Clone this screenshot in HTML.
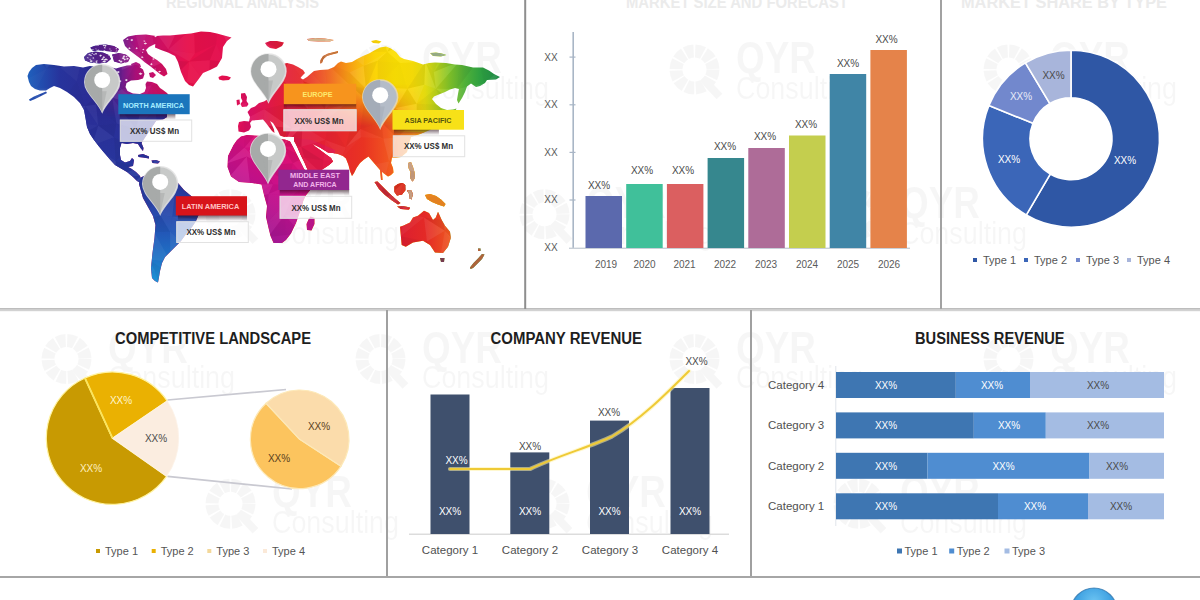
<!DOCTYPE html>
<html lang="en">
<head>
<meta charset="utf-8">
<title>Market Infographic</title>
<style>
  html, body { margin: 0; padding: 0; background: #ffffff; }
  body { width: 1200px; height: 600px; overflow: hidden; font-family: "Liberation Sans", sans-serif; }
  svg { display: block; position: absolute; left: 0; top: 0; }
  text { font-family: "Liberation Sans", sans-serif; }
  .t  { font-weight: bold; font-size: 15.6px; fill: #1e1e1e; }
  .ax { font-size: 10px; fill: #5a5a5a; }
  .lg { font-size: 11px; fill: #555555; }
  .cat { font-size: 11.5px; fill: #505050; }
  .pv { font-size: 10px; fill: #4a4a4a; }
  .pw { font-size: 10px; fill: #ffffff; }
</style>
</head>
<body>
<svg width="1200" height="600" viewBox="0 0 1200 600">
  <defs>
    <radialGradient id="globeG" cx="0.5" cy="0.3" r="0.7">
  <stop offset="0" stop-color="#6cc4f2"/><stop offset="0.6" stop-color="#3a9de0"/><stop offset="1" stop-color="#2a78b8"/>
</radialGradient>
<clipPath id="landClip">
<polygon points="27.5,76 29,72 32,68 36,65 44,64 54,65 64,66.5 74,66 83,67.5 90,66 97,67 104,68.5 110,67 116,68.5 121,67 127,65.5 133,65 139,66.5 143,69.5 144.5,74 143,78.5 138,80 131,80.5 126.5,83 125.5,87 127.5,91 133,93.5 140,94 144.5,92 146,88 145.5,84 147,81.5 152,82 157,84 160,88 163,90 167,93 171,98 168,102 162,104 166,108 167,112 167,117 163,119.5 157,120.5 156,121 152,127 148,133 144,139 141.5,143 143.5,148 143,151 140.5,148 138,144 133,143 127,144 121.5,143 120,148 120,155 121,160 125,162.5 130,161 132,158 134,160 133,166 128,167 131,168.5 136,172 140,176 142,183.5 137,181 133,177 127,172 121,168.5 115,165 110,159.5 104,152.5 99,146.5 94,140 90,134 87,127 85.5,118 84,110 80,103 74,97 67,92 60,88 54,86 50,88 46,90.5 40,90.5 35,89 31,86 29,82"/>
<polygon points="29,99.5 34,96.5 40,94 46,91.5 47,93 41,96 35,99 30,101"/>
<polygon points="84,57 88,53 95,51.5 103,52.5 109,55 111,59 107,62.5 99,63.5 90,62.5 85,60.5"/>
<polygon points="90,47.5 97,45 106,44.5 114,46 119,49 117,52.5 110,51.5 101,50.5 93,51"/>
<polygon points="112,54.5 119,53 126,54.5 130,58 128,62 121,63.5 114,61.5"/>
<polygon points="123,40 128,36.5 136,35 146,34.5 156,36 163,38.5 160,42 154,44.5 149,47 146,50 148,54 152,57 157,60 162,64 166,69 167.5,74 164,76.5 160,74 155,70 150,66 145,62.5 141,59 137,56 133,53 129,50 125,46"/>
<polygon points="131,64 136,62 140,64 141,67 136,66 132,66.5"/>
<polygon points="149,73 153,72 156,75 153,78 150,77"/>
<polygon points="156,36 163,35.5 170,35.5 180,34.5 191,33.5 201,31.5 210,32 217,33.5 226,36 231.5,37.5 227,41 223,47 222,58 217,66.5 210,70 203,73 198,80 193,86.5 189,85 185,81 181,72 178,62 175,56 168,52.5 161,50 155,47.5"/>
<polygon points="218.5,77 222,75.5 227,76 231,77.5 229,80 223,80.5 219,79.5"/>
<polygon points="138,155 143,154 149,156.5 149,158.5 143,157.5 138.5,157"/>
<polygon points="151.5,160.5 156,160 160,161.5 158,163.5 152.5,163"/>
<polygon points="140,178 146,175 155,174 165,176 172,179 178,183 184,190 190,195 196,200 200,207 199,214 196,221 192,227 186,234 181,241 176,246 170,252 165,257 162,263 160,271 159,277 158,282.5 155,281 152,278 151,268 152.5,253 154.5,238 155.5,225 153,216 148,207 143,198 141,191 139,184"/>
<polygon points="265,43 270,41 277,41 284,42.5 282,46 276,49 270,48 267,46"/>
<polygon points="307,39 315,38 325,38.5 334,40 330,41.5 318,41.5 309,41"/>
<polygon points="338,51 334,52 328,53.5 323,56 320.5,60 320,63.5 322,63 323.5,59 327,56 332,54.5 338,53"/>
<polygon points="371,41 376,40 381.5,41.5 379,43.5 373,43"/>
<polygon points="430,53 436,52.5 442,53.5 446.5,55 441,56.5 433,56"/>
<polygon points="241,93.5 245,93 247,97 246.5,101 248.5,104 247,106.5 242,107 240.5,104 242.5,101 241,98"/>
<polygon points="236.5,100 239.5,99.5 240,104 237,105.5"/>
<polygon points="238.5,131.5 238,126 239,122 244,121 249,121.5 250,117 247.5,112 251,108 255,106.5 259,103 264,101.5 268,99 262,92 261,86 264,79 269,73 275,68 281,64.5 287,63 293,64.5 298,67 303,70 305,73 302,76 300.5,78 303,79.5 307,77 311,73.5 314,71 320,70 328,69.5 334,67 338,63 341,61.5 346,63 352,62 357,59 363,56 369,53.5 375,50 380,47.5 386,46.5 391,48.5 396,52 400,57 404,59 413,61 423,64.5 429,63 435,62.5 446,63 455,64.5 462,65 473,67.5 483,67.5 489,70.5 494,74 500,77 496,79.5 487,80 485,83 480,86 476,87 471,83.5 467,86.5 465,92 462,98 458.5,103.5 457,100 458,94 459,89 455,88 450,89.5 445,92 440,94 434,96.5 432,99 436,104 441,108 447,110 453,109.5 456.5,108.5 455,112 448,118 440,124 430,130 420,134 411,137 408.5,145 407,152 401,157 396,157.5 392,157.5 391,163 393,168 393.5,172.5 391,175 388,176.5 384,173.5 380,170 377,166.5 374,163 371,159.5 368.5,156.5 364,159.5 360,163 356.5,168 354,173 352,176 350,171 348.5,165 346,158.5 343,156 338,154 333,153 328,152.5 324,150 319,147 314,144.5 312,143 315,146.5 320,150 326,154.5 331,158 333,161.5 329,165 323,169 316,173 310,174.5 307.5,169.5 304.5,162.5 300.5,154.5 297.5,147.5 295.5,143.5 294,141 294,137 289,136.5 284,137 280,135.5 278,131 275.5,127 273,123 270,121 272,125 274,129.5 274.5,133 272,131 269,127 266,123 263,119.5 258,120 252,120.5 250,123 251,127 249,130.5 244,132.5"/>
<polygon points="380,170 381.8,170.5 382.6,180 381,180"/>
<polygon points="374.5,182 377.5,181.5 383,187 389,193 395,198.5 400.5,203 398,204.5 392,200.5 385,195 379,189"/>
<polygon points="397,206.5 403,206 410,207.5 409,209.5 401,209"/>
<polygon points="394.5,186.5 398,184 402.5,183 406,185.5 405.5,190 402,194.5 397,195.5 394.5,192"/>
<polygon points="408,163 411,162 413,167 414.5,172 415,178 412.5,181.5 410,178 410.5,172 408.5,168"/>
<polygon points="407,190.5 411,190 413,194 411.5,199.5 409,198 409.5,194.5"/>
<polygon points="425,195 430,194 436,196 441,199.5 445.5,204 444,206.5 438,204.5 432,202 427,199"/>
<polygon points="241,136.5 247,135 254,135.5 262,136 270,137.5 278,139 285,139.5 290,141.5 293,147 296.5,154 300,161 303.5,168 307.5,174.5 313,178 319,179.5 316,183 311,189 306,195 303.5,200 301.5,207 298.5,216 296,223 291,233.5 286,240 282,243 273.5,243 270.5,236 268.5,228 266,217 267,206 264,195 261.5,184.5 252,183 239,182 231,176.5 227.5,167 228,156 233.5,145 237,140"/>
<polygon points="310.5,216.5 314.5,218 314.5,224 311.5,230.5 307,230 306.5,224 308.5,219.5"/>
<polygon points="400,226.7 401.7,245 405.8,246.7 413,242.5 423,240.8 430,245 435,252.5 443,253 448,246.7 450.8,238 450,231.7 445,225.8 441.7,220 438,211.7 435.8,217.5 433,220 429,213 424,210.8 418,215.8 413,217.5 410,222.5 403,225.8"/>
<polygon points="440,258 444.5,258 444,262 441,262"/>
<polygon points="470,267.5 473.5,263 478,258.5 482,254 484.5,254.5 482,259 477.5,263.5 473,268 470.5,269"/>
<polygon points="478,248.5 480.5,248.5 480.5,251 478,251"/>
</clipPath>
<linearGradient id="gTop" gradientUnits="userSpaceOnUse" x1="0" y1="0" x2="500" y2="0">
<stop offset="0.056" stop-color="#1f5fbc"/><stop offset="0.12" stop-color="#27339c"/><stop offset="0.2" stop-color="#2c2a92"/>
<stop offset="0.236" stop-color="#5a2090"/><stop offset="0.272" stop-color="#b0107c"/><stop offset="0.32" stop-color="#d21064"/>
<stop offset="0.38" stop-color="#e8104a"/><stop offset="0.46" stop-color="#e21050"/><stop offset="0.5" stop-color="#dc1064"/>
<stop offset="0.55" stop-color="#e01a40"/><stop offset="0.6" stop-color="#e62228"/><stop offset="0.65" stop-color="#ee5a22"/>
<stop offset="0.685" stop-color="#f48a18"/><stop offset="0.715" stop-color="#f8b410"/><stop offset="0.75" stop-color="#fbd408"/><stop offset="0.79" stop-color="#fce004"/>
<stop offset="0.825" stop-color="#f8de08"/><stop offset="0.85" stop-color="#e4dc10"/><stop offset="0.875" stop-color="#b4d01c"/><stop offset="0.9" stop-color="#80c42a"/>
<stop offset="0.93" stop-color="#50b038"/><stop offset="0.96" stop-color="#2ea040"/><stop offset="1" stop-color="#1e8848"/></linearGradient>
<linearGradient id="gAmer" gradientUnits="userSpaceOnUse" x1="0" y1="100" x2="0" y2="285">
<stop offset="0" stop-color="#2b2c96"/><stop offset="0.35" stop-color="#27359c"/><stop offset="0.55" stop-color="#2a40a4"/>
<stop offset="0.72" stop-color="#2258b8"/><stop offset="0.86" stop-color="#1f74c6"/><stop offset="1" stop-color="#1f96d8"/></linearGradient>
<linearGradient id="gAmerFade" gradientUnits="userSpaceOnUse" x1="0" y1="92" x2="0" y2="118">
<stop offset="0" stop-color="#fff" stop-opacity="0"/><stop offset="1" stop-color="#fff" stop-opacity="1"/></linearGradient>
<mask id="mAmer"><rect x="0" y="0" width="215" height="300" fill="url(#gAmerFade)"/></mask>
<linearGradient id="gAfr" gradientUnits="userSpaceOnUse" x1="305" y1="140" x2="245" y2="240">
<stop offset="0" stop-color="#e21058"/><stop offset="0.25" stop-color="#d8107a"/><stop offset="0.5" stop-color="#c8108c"/><stop offset="0.75" stop-color="#b01490"/><stop offset="1" stop-color="#981a94"/></linearGradient>
<linearGradient id="gAsiaS" gradientUnits="userSpaceOnUse" x1="285" y1="0" x2="460" y2="0">
<stop offset="0" stop-color="#e01a48"/><stop offset="0.25" stop-color="#e42230"/><stop offset="0.45" stop-color="#e93322"/><stop offset="0.58" stop-color="#f05220"/><stop offset="0.68" stop-color="#f47a1c"/><stop offset="0.8" stop-color="#f6a018"/><stop offset="1" stop-color="#f8c010"/></linearGradient>
<linearGradient id="gAsiaSFade" gradientUnits="userSpaceOnUse" x1="0" y1="84" x2="0" y2="126">
<stop offset="0" stop-color="#fff" stop-opacity="0"/><stop offset="1" stop-color="#fff" stop-opacity="1"/></linearGradient>
<linearGradient id="gAsiaSFadeX" gradientUnits="userSpaceOnUse" x1="392" y1="0" x2="428" y2="0">
<stop offset="0" stop-color="#000" stop-opacity="0"/><stop offset="1" stop-color="#000" stop-opacity="1"/></linearGradient>
<mask id="mAsiaS"><rect x="280" y="60" width="200" height="150" fill="url(#gAsiaSFade)"/><rect x="380" y="60" width="110" height="72" fill="url(#gAsiaSFadeX)"/></mask>
<linearGradient id="gArc" gradientUnits="userSpaceOnUse" x1="84" y1="0" x2="130" y2="0">
<stop offset="0" stop-color="#45238c"/><stop offset="0.5" stop-color="#5c1e88"/><stop offset="1" stop-color="#8a1684"/></linearGradient>
<linearGradient id="gAus" gradientUnits="userSpaceOnUse" x1="400" y1="0" x2="452" y2="0">
<stop offset="0" stop-color="#dc1e30"/><stop offset="0.5" stop-color="#e42a26"/><stop offset="1" stop-color="#ee5a20"/></linearGradient><linearGradient id="shG" x1="0" y1="0" x2="0" y2="1"><stop offset="0" stop-color="#200010" stop-opacity="0.6"/><stop offset="1" stop-color="#200010" stop-opacity="0"/></linearGradient>

  </defs>
  <rect x="0" y="0" width="1200" height="600" fill="#ffffff"/>

  <g id="watermarks" opacity="0.031">
<g><circle cx="380.5" cy="69.5" r="18.5" fill="none" stroke="#000" stroke-width="13" stroke-dasharray="8.2 1.5"/><path d="M388.5,78.5 L405.5,96.5" stroke="#000" stroke-width="8" stroke-linecap="butt"/><text x="422" y="73.1" font-size="44" font-weight="bold" fill="#000" textLength="80" lengthAdjust="spacingAndGlyphs">QYR</text><text x="422" y="98.8" font-size="31.5" fill="#000" textLength="127" lengthAdjust="spacingAndGlyphs">Consulting</text></g>
<g><circle cx="694.5" cy="69.5" r="18.5" fill="none" stroke="#000" stroke-width="13" stroke-dasharray="8.2 1.5"/><path d="M702.5,78.5 L719.5,96.5" stroke="#000" stroke-width="8" stroke-linecap="butt"/><text x="736" y="73.1" font-size="44" font-weight="bold" fill="#000" textLength="80" lengthAdjust="spacingAndGlyphs">QYR</text><text x="736" y="98.8" font-size="31.5" fill="#000" textLength="127" lengthAdjust="spacingAndGlyphs">Consulting</text></g>
<g><circle cx="1008.5" cy="69.5" r="18.5" fill="none" stroke="#000" stroke-width="13" stroke-dasharray="8.2 1.5"/><path d="M1016.5,78.5 L1033.5,96.5" stroke="#000" stroke-width="8" stroke-linecap="butt"/><text x="1050" y="73.1" font-size="44" font-weight="bold" fill="#000" textLength="80" lengthAdjust="spacingAndGlyphs">QYR</text><text x="1050" y="98.8" font-size="31.5" fill="#000" textLength="127" lengthAdjust="spacingAndGlyphs">Consulting</text></g>
<g><circle cx="230.5" cy="214.3" r="18.5" fill="none" stroke="#000" stroke-width="13" stroke-dasharray="8.2 1.5"/><path d="M238.5,223.3 L255.5,241.3" stroke="#000" stroke-width="8" stroke-linecap="butt"/><text x="272" y="217.9" font-size="44" font-weight="bold" fill="#000" textLength="80" lengthAdjust="spacingAndGlyphs">QYR</text><text x="272" y="243.60000000000002" font-size="31.5" fill="#000" textLength="127" lengthAdjust="spacingAndGlyphs">Consulting</text></g>
<g><circle cx="544.5" cy="214.3" r="18.5" fill="none" stroke="#000" stroke-width="13" stroke-dasharray="8.2 1.5"/><path d="M552.5,223.3 L569.5,241.3" stroke="#000" stroke-width="8" stroke-linecap="butt"/><text x="586" y="217.9" font-size="44" font-weight="bold" fill="#000" textLength="80" lengthAdjust="spacingAndGlyphs">QYR</text><text x="586" y="243.60000000000002" font-size="31.5" fill="#000" textLength="127" lengthAdjust="spacingAndGlyphs">Consulting</text></g>
<g><circle cx="858.5" cy="214.3" r="18.5" fill="none" stroke="#000" stroke-width="13" stroke-dasharray="8.2 1.5"/><path d="M866.5,223.3 L883.5,241.3" stroke="#000" stroke-width="8" stroke-linecap="butt"/><text x="900" y="217.9" font-size="44" font-weight="bold" fill="#000" textLength="80" lengthAdjust="spacingAndGlyphs">QYR</text><text x="900" y="243.60000000000002" font-size="31.5" fill="#000" textLength="127" lengthAdjust="spacingAndGlyphs">Consulting</text></g>
<g><circle cx="66.5" cy="359" r="18.5" fill="none" stroke="#000" stroke-width="13" stroke-dasharray="8.2 1.5"/><path d="M74.5,368 L91.5,386" stroke="#000" stroke-width="8" stroke-linecap="butt"/><text x="108" y="362.6" font-size="44" font-weight="bold" fill="#000" textLength="80" lengthAdjust="spacingAndGlyphs">QYR</text><text x="108" y="388.3" font-size="31.5" fill="#000" textLength="127" lengthAdjust="spacingAndGlyphs">Consulting</text></g>
<g><circle cx="380.5" cy="359" r="18.5" fill="none" stroke="#000" stroke-width="13" stroke-dasharray="8.2 1.5"/><path d="M388.5,368 L405.5,386" stroke="#000" stroke-width="8" stroke-linecap="butt"/><text x="422" y="362.6" font-size="44" font-weight="bold" fill="#000" textLength="80" lengthAdjust="spacingAndGlyphs">QYR</text><text x="422" y="388.3" font-size="31.5" fill="#000" textLength="127" lengthAdjust="spacingAndGlyphs">Consulting</text></g>
<g><circle cx="694.5" cy="359" r="18.5" fill="none" stroke="#000" stroke-width="13" stroke-dasharray="8.2 1.5"/><path d="M702.5,368 L719.5,386" stroke="#000" stroke-width="8" stroke-linecap="butt"/><text x="736" y="362.6" font-size="44" font-weight="bold" fill="#000" textLength="80" lengthAdjust="spacingAndGlyphs">QYR</text><text x="736" y="388.3" font-size="31.5" fill="#000" textLength="127" lengthAdjust="spacingAndGlyphs">Consulting</text></g>
<g><circle cx="1008.5" cy="359" r="18.5" fill="none" stroke="#000" stroke-width="13" stroke-dasharray="8.2 1.5"/><path d="M1016.5,368 L1033.5,386" stroke="#000" stroke-width="8" stroke-linecap="butt"/><text x="1050" y="362.6" font-size="44" font-weight="bold" fill="#000" textLength="80" lengthAdjust="spacingAndGlyphs">QYR</text><text x="1050" y="388.3" font-size="31.5" fill="#000" textLength="127" lengthAdjust="spacingAndGlyphs">Consulting</text></g>
<g><circle cx="230.5" cy="503.8" r="18.5" fill="none" stroke="#000" stroke-width="13" stroke-dasharray="8.2 1.5"/><path d="M238.5,512.8 L255.5,530.8" stroke="#000" stroke-width="8" stroke-linecap="butt"/><text x="272" y="507.40000000000003" font-size="44" font-weight="bold" fill="#000" textLength="80" lengthAdjust="spacingAndGlyphs">QYR</text><text x="272" y="533.1" font-size="31.5" fill="#000" textLength="127" lengthAdjust="spacingAndGlyphs">Consulting</text></g>
<g><circle cx="544.5" cy="503.8" r="18.5" fill="none" stroke="#000" stroke-width="13" stroke-dasharray="8.2 1.5"/><path d="M552.5,512.8 L569.5,530.8" stroke="#000" stroke-width="8" stroke-linecap="butt"/><text x="586" y="507.40000000000003" font-size="44" font-weight="bold" fill="#000" textLength="80" lengthAdjust="spacingAndGlyphs">QYR</text><text x="586" y="533.1" font-size="31.5" fill="#000" textLength="127" lengthAdjust="spacingAndGlyphs">Consulting</text></g>
<g><circle cx="858.5" cy="503.8" r="18.5" fill="none" stroke="#000" stroke-width="13" stroke-dasharray="8.2 1.5"/><path d="M866.5,512.8 L883.5,530.8" stroke="#000" stroke-width="8" stroke-linecap="butt"/><text x="900" y="507.40000000000003" font-size="44" font-weight="bold" fill="#000" textLength="80" lengthAdjust="spacingAndGlyphs">QYR</text><text x="900" y="533.1" font-size="31.5" fill="#000" textLength="127" lengthAdjust="spacingAndGlyphs">Consulting</text></g>
</g>

  <g id="toptitles" fill="#ebebeb" font-weight="bold" font-size="16">
<text x="166" y="7.5" textLength="153" lengthAdjust="spacingAndGlyphs">REGIONAL ANALYSIS</text>
<text x="626" y="7.5" textLength="222" lengthAdjust="spacingAndGlyphs">MARKET SIZE AND FORECAST</text>
<text x="961" y="7.5" textLength="206" lengthAdjust="spacingAndGlyphs">MARKET SHARE BY TYPE</text>
</g>

  <g id="map">
<g clip-path="url(#landClip)">
<rect x="20" y="25" width="490" height="270" fill="url(#gTop)"/>
<g mask="url(#mAmer)"><rect x="20" y="90" width="190" height="200" fill="url(#gAmer)"/></g>
<g mask="url(#mAsiaS)"><rect x="286" y="80" width="190" height="130" fill="url(#gAsiaS)"/></g>
<polygon points="241,136.5 247,135 254,135.5 262,136 270,137.5 278,139 285,139.5 290,141.5 293,147 296.5,154 300,161 303.5,168 307.5,174.5 313,178 319,179.5 316,183 311,189 306,195 303.5,200 301.5,207 298.5,216 296,223 291,233.5 286,240 282,243 273.5,243 270.5,236 268.5,228 266,217 267,206 264,195 261.5,184.5 252,183 239,182 231,176.5 227.5,167 228,156 233.5,145 237,140" fill="url(#gAfr)"/>
<polygon points="310.5,216.5 314.5,218 314.5,224 311.5,230.5 307,230 306.5,224 308.5,219.5" fill="#b81488"/>
<polygon points="294,138 312,140 335,150 335,180 309,180 300,155" fill="#e01848"/>
<rect x="370" y="180" width="45" height="32" fill="#c82a38"/>
<rect x="392" y="182" width="16" height="15" fill="#dc3020"/>
<rect x="405" y="160" width="12" height="42" fill="#c49a7c"/>
<rect x="423" y="192" width="25" height="16" fill="#e88422"/>
<rect x="398" y="208" width="56" height="48" fill="url(#gAus)"/>
<rect x="438" y="256" width="8" height="8" fill="#6e3044"/>
<rect x="468" y="246" width="18" height="25" fill="#b0643c"/>
<g fill="url(#gArc)"><polygon points="84,57 88,53 95,51.5 103,52.5 109,55 111,59 107,62.5 99,63.5 90,62.5 85,60.5"/><polygon points="90,47.5 97,45 106,44.5 114,46 119,49 117,52.5 110,51.5 101,50.5 93,51"/><polygon points="112,54.5 119,53 126,54.5 130,58 128,62 121,63.5 114,61.5"/></g>
<polygon points="338,51 334,52 328,53.5 323,56 320.5,60 320,63.5 322,63 323.5,59 327,56 332,54.5 338,53" fill="#c0743c"/>
<polygon points="307,39 315,38 325,38.5 334,40 330,41.5 318,41.5 309,41" fill="#d8b890"/>
<polygon points="430,53 436,52.5 442,53.5 446.5,55 441,56.5 433,56" fill="#9ab088"/>
<g id="facets"><polygon points="19.7,23.5 43.0,22.4 35.0,49.2" fill="#000" fill-opacity="0.05"/>
<polygon points="19.7,23.5 35.0,49.2 17.5,46.9" fill="#000" fill-opacity="0.06"/>
<polygon points="43.0,22.4 60.5,26.3 35.0,49.2" fill="#000" fill-opacity="0.02"/>
<polygon points="60.5,26.3 63.4,47.9 35.0,49.2" fill="#fff" fill-opacity="0.08"/>
<polygon points="60.5,26.3 73.3,28.1 63.4,47.9" fill="#fff" fill-opacity="0.08"/>
<polygon points="73.3,28.1 83.9,44.6 63.4,47.9" fill="#000" fill-opacity="0.03"/>
<polygon points="73.3,28.1 92.0,27.1 100.5,48.2" fill="#000" fill-opacity="0.05"/>
<polygon points="111.4,22.7 118.0,46.4 100.5,48.2" fill="#000" fill-opacity="0.03"/>
<polygon points="111.4,22.7 140.4,52.8 118.0,46.4" fill="#fff" fill-opacity="0.03"/>
<polygon points="135.0,32.2 150.1,24.4 140.4,52.8" fill="#fff" fill-opacity="0.06"/>
<polygon points="150.1,24.4 154.7,49.1 140.4,52.8" fill="#fff" fill-opacity="0.03"/>
<polygon points="150.1,24.4 175.7,33.8 168.3,49.6" fill="#fff" fill-opacity="0.06"/>
<polygon points="150.1,24.4 168.3,49.6 154.7,49.1" fill="#000" fill-opacity="0.02"/>
<polygon points="175.7,33.8 194.0,26.7 168.3,49.6" fill="#000" fill-opacity="0.02"/>
<polygon points="194.0,26.7 194.9,53.4 168.3,49.6" fill="#fff" fill-opacity="0.04"/>
<polygon points="194.0,26.7 218.2,22.1 216.2,44.2" fill="#000" fill-opacity="0.03"/>
<polygon points="194.0,26.7 216.2,44.2 194.9,53.4" fill="#000" fill-opacity="0.03"/>
<polygon points="218.2,22.1 235.7,25.3 229.5,49.2" fill="#fff" fill-opacity="0.07"/>
<polygon points="235.7,25.3 243.8,46.5 229.5,49.2" fill="#fff" fill-opacity="0.08"/>
<polygon points="245.4,23.0 266.5,32.1 243.8,46.5" fill="#000" fill-opacity="0.03"/>
<polygon points="266.5,32.1 264.7,42.0 243.8,46.5" fill="#fff" fill-opacity="0.05"/>
<polygon points="266.5,32.1 283.8,29.1 264.7,42.0" fill="#fff" fill-opacity="0.08"/>
<polygon points="283.8,29.1 282.3,50.5 264.7,42.0" fill="#000" fill-opacity="0.05"/>
<polygon points="283.8,29.1 308.8,26.3 302.2,43.7" fill="#fff" fill-opacity="0.05"/>
<polygon points="283.8,29.1 302.2,43.7 282.3,50.5" fill="#fff" fill-opacity="0.06"/>
<polygon points="308.8,26.3 326.6,22.3 302.2,43.7" fill="#000" fill-opacity="0.06"/>
<polygon points="326.6,22.3 324.6,51.8 302.2,43.7" fill="#000" fill-opacity="0.02"/>
<polygon points="326.6,22.3 339.3,24.2 339.5,46.3" fill="#000" fill-opacity="0.04"/>
<polygon points="326.6,22.3 339.5,46.3 324.6,51.8" fill="#fff" fill-opacity="0.08"/>
<polygon points="339.3,24.2 366.3,27.1 339.5,46.3" fill="#fff" fill-opacity="0.07"/>
<polygon points="366.3,27.1 364.6,52.0 339.5,46.3" fill="#000" fill-opacity="0.02"/>
<polygon points="380.6,29.1 387.2,51.7 364.6,52.0" fill="#000" fill-opacity="0.03"/>
<polygon points="380.6,29.1 401.4,25.4 387.2,51.7" fill="#fff" fill-opacity="0.08"/>
<polygon points="401.4,25.4 399.1,45.9 387.2,51.7" fill="#000" fill-opacity="0.05"/>
<polygon points="424.8,30.6 419.2,52.0 399.1,45.9" fill="#000" fill-opacity="0.03"/>
<polygon points="424.8,30.6 436.7,29.0 446.0,42.5" fill="#000" fill-opacity="0.04"/>
<polygon points="424.8,30.6 446.0,42.5 419.2,52.0" fill="#000" fill-opacity="0.04"/>
<polygon points="436.7,29.0 454.8,43.5 446.0,42.5" fill="#fff" fill-opacity="0.03"/>
<polygon points="459.3,32.9 481.0,25.2 474.5,46.8" fill="#000" fill-opacity="0.06"/>
<polygon points="459.3,32.9 474.5,46.8 454.8,43.5" fill="#000" fill-opacity="0.02"/>
<polygon points="481.0,25.2 503.2,23.0 474.5,46.8" fill="#000" fill-opacity="0.04"/>
<polygon points="503.2,23.0 498.2,43.9 474.5,46.8" fill="#000" fill-opacity="0.02"/>
<polygon points="503.2,23.0 514.9,31.3 509.6,45.9" fill="#fff" fill-opacity="0.05"/>
<polygon points="17.5,46.9 35.0,49.2 46.9,68.5" fill="#000" fill-opacity="0.05"/>
<polygon points="35.0,49.2 63.4,47.9 46.9,68.5" fill="#fff" fill-opacity="0.02"/>
<polygon points="63.4,47.9 60.2,67.5 46.9,68.5" fill="#000" fill-opacity="0.05"/>
<polygon points="63.4,47.9 83.9,44.6 81.3,60.2" fill="#fff" fill-opacity="0.03"/>
<polygon points="83.9,44.6 100.5,48.2 103.2,69.6" fill="#000" fill-opacity="0.02"/>
<polygon points="83.9,44.6 103.2,69.6 81.3,60.2" fill="#fff" fill-opacity="0.08"/>
<polygon points="100.5,48.2 121.9,69.9 103.2,69.6" fill="#000" fill-opacity="0.02"/>
<polygon points="118.0,46.4 140.4,52.8 134.6,64.7" fill="#fff" fill-opacity="0.06"/>
<polygon points="118.0,46.4 134.6,64.7 121.9,69.9" fill="#fff" fill-opacity="0.08"/>
<polygon points="140.4,52.8 154.7,49.1 149.8,67.7" fill="#000" fill-opacity="0.04"/>
<polygon points="140.4,52.8 149.8,67.7 134.6,64.7" fill="#fff" fill-opacity="0.04"/>
<polygon points="154.7,49.1 168.3,49.6 168.3,60.4" fill="#000" fill-opacity="0.06"/>
<polygon points="154.7,49.1 168.3,60.4 149.8,67.7" fill="#fff" fill-opacity="0.07"/>
<polygon points="168.3,49.6 194.9,53.4 189.2,61.6" fill="#fff" fill-opacity="0.05"/>
<polygon points="216.2,44.2 209.9,60.2 189.2,61.6" fill="#000" fill-opacity="0.04"/>
<polygon points="216.2,44.2 224.5,61.5 209.9,60.2" fill="#fff" fill-opacity="0.02"/>
<polygon points="229.5,49.2 243.8,46.5 224.5,61.5" fill="#000" fill-opacity="0.05"/>
<polygon points="243.8,46.5 262.8,70.9 244.8,64.2" fill="#000" fill-opacity="0.04"/>
<polygon points="264.7,42.0 289.5,61.4 262.8,70.9" fill="#fff" fill-opacity="0.07"/>
<polygon points="282.3,50.5 303.8,64.0 289.5,61.4" fill="#fff" fill-opacity="0.05"/>
<polygon points="302.2,43.7 324.6,51.8 303.8,64.0" fill="#000" fill-opacity="0.04"/>
<polygon points="324.6,51.8 324.2,61.1 303.8,64.0" fill="#000" fill-opacity="0.04"/>
<polygon points="324.6,51.8 339.5,46.3 324.2,61.1" fill="#fff" fill-opacity="0.08"/>
<polygon points="339.5,46.3 364.6,52.0 363.6,65.8" fill="#fff" fill-opacity="0.07"/>
<polygon points="387.2,51.7 377.6,60.8 363.6,65.8" fill="#fff" fill-opacity="0.06"/>
<polygon points="387.2,51.7 399.1,45.9 400.0,62.9" fill="#fff" fill-opacity="0.05"/>
<polygon points="387.2,51.7 400.0,62.9 377.6,60.8" fill="#000" fill-opacity="0.03"/>
<polygon points="399.1,45.9 419.2,52.0 425.3,61.6" fill="#fff" fill-opacity="0.06"/>
<polygon points="399.1,45.9 425.3,61.6 400.0,62.9" fill="#fff" fill-opacity="0.06"/>
<polygon points="419.2,52.0 446.0,42.5 433.8,71.9" fill="#000" fill-opacity="0.03"/>
<polygon points="454.8,43.5 459.4,61.4 433.8,71.9" fill="#000" fill-opacity="0.05"/>
<polygon points="454.8,43.5 474.5,46.8 478.6,59.9" fill="#fff" fill-opacity="0.04"/>
<polygon points="454.8,43.5 478.6,59.9 459.4,61.4" fill="#fff" fill-opacity="0.07"/>
<polygon points="474.5,46.8 497.4,72.2 478.6,59.9" fill="#fff" fill-opacity="0.04"/>
<polygon points="498.2,43.9 509.6,45.9 520.7,68.6" fill="#fff" fill-opacity="0.06"/>
<polygon points="498.2,43.9 520.7,68.6 497.4,72.2" fill="#000" fill-opacity="0.05"/>
<polygon points="46.9,68.5 36.7,88.5 18.9,83.3" fill="#fff" fill-opacity="0.02"/>
<polygon points="60.2,67.5 81.3,60.2 76.8,81.4" fill="#fff" fill-opacity="0.03"/>
<polygon points="81.3,60.2 103.2,69.6 102.0,91.3" fill="#000" fill-opacity="0.06"/>
<polygon points="103.2,69.6 121.9,69.9 121.6,89.0" fill="#000" fill-opacity="0.03"/>
<polygon points="103.2,69.6 121.6,89.0 102.0,91.3" fill="#fff" fill-opacity="0.04"/>
<polygon points="134.6,64.7 140.1,88.1 121.6,89.0" fill="#000" fill-opacity="0.04"/>
<polygon points="134.6,64.7 149.8,67.7 151.4,85.2" fill="#000" fill-opacity="0.05"/>
<polygon points="134.6,64.7 151.4,85.2 140.1,88.1" fill="#000" fill-opacity="0.04"/>
<polygon points="149.8,67.7 168.3,60.4 172.1,78.9" fill="#000" fill-opacity="0.05"/>
<polygon points="168.3,60.4 189.2,61.6 172.1,78.9" fill="#000" fill-opacity="0.06"/>
<polygon points="189.2,61.6 186.9,82.1 172.1,78.9" fill="#fff" fill-opacity="0.02"/>
<polygon points="189.2,61.6 209.9,60.2 208.9,87.5" fill="#fff" fill-opacity="0.04"/>
<polygon points="189.2,61.6 208.9,87.5 186.9,82.1" fill="#fff" fill-opacity="0.05"/>
<polygon points="209.9,60.2 224.5,61.5 208.9,87.5" fill="#000" fill-opacity="0.05"/>
<polygon points="224.5,61.5 244.8,64.2 255.7,91.3" fill="#fff" fill-opacity="0.08"/>
<polygon points="224.5,61.5 255.7,91.3 236.9,84.3" fill="#000" fill-opacity="0.04"/>
<polygon points="244.8,64.2 262.8,70.9 255.7,91.3" fill="#fff" fill-opacity="0.08"/>
<polygon points="262.8,70.9 274.9,83.2 255.7,91.3" fill="#fff" fill-opacity="0.04"/>
<polygon points="262.8,70.9 289.5,61.4 274.9,83.2" fill="#000" fill-opacity="0.04"/>
<polygon points="289.5,61.4 284.4,81.4 274.9,83.2" fill="#fff" fill-opacity="0.08"/>
<polygon points="289.5,61.4 303.8,64.0 303.1,81.2" fill="#fff" fill-opacity="0.08"/>
<polygon points="289.5,61.4 303.1,81.2 284.4,81.4" fill="#fff" fill-opacity="0.07"/>
<polygon points="303.8,64.0 324.2,61.1 327.6,90.2" fill="#fff" fill-opacity="0.05"/>
<polygon points="303.8,64.0 327.6,90.2 303.1,81.2" fill="#fff" fill-opacity="0.07"/>
<polygon points="324.2,61.1 349.5,72.4 349.4,84.7" fill="#000" fill-opacity="0.02"/>
<polygon points="324.2,61.1 349.4,84.7 327.6,90.2" fill="#fff" fill-opacity="0.04"/>
<polygon points="349.5,72.4 363.6,65.8 366.0,88.9" fill="#fff" fill-opacity="0.07"/>
<polygon points="349.5,72.4 366.0,88.9 349.4,84.7" fill="#000" fill-opacity="0.03"/>
<polygon points="363.6,65.8 377.6,60.8 366.0,88.9" fill="#000" fill-opacity="0.04"/>
<polygon points="377.6,60.8 400.0,62.9 377.6,87.1" fill="#000" fill-opacity="0.04"/>
<polygon points="400.0,62.9 407.3,88.7 377.6,87.1" fill="#000" fill-opacity="0.03"/>
<polygon points="400.0,62.9 425.3,61.6 407.3,88.7" fill="#000" fill-opacity="0.02"/>
<polygon points="425.3,61.6 424.3,84.7 407.3,88.7" fill="#000" fill-opacity="0.06"/>
<polygon points="425.3,61.6 433.8,71.9 435.8,88.8" fill="#000" fill-opacity="0.04"/>
<polygon points="425.3,61.6 435.8,88.8 424.3,84.7" fill="#fff" fill-opacity="0.07"/>
<polygon points="433.8,71.9 459.4,61.4 435.8,88.8" fill="#fff" fill-opacity="0.07"/>
<polygon points="459.4,61.4 456.8,88.9 435.8,88.8" fill="#000" fill-opacity="0.04"/>
<polygon points="459.4,61.4 478.6,59.9 456.8,88.9" fill="#000" fill-opacity="0.05"/>
<polygon points="478.6,59.9 497.4,72.2 484.1,83.6" fill="#000" fill-opacity="0.02"/>
<polygon points="497.4,72.2 495.7,90.8 484.1,83.6" fill="#fff" fill-opacity="0.06"/>
<polygon points="520.7,68.6 518.9,80.7 495.7,90.8" fill="#fff" fill-opacity="0.07"/>
<polygon points="18.9,83.3 36.7,88.5 46.3,108.0" fill="#fff" fill-opacity="0.08"/>
<polygon points="18.9,83.3 46.3,108.0 17.2,99.5" fill="#fff" fill-opacity="0.02"/>
<polygon points="36.7,88.5 60.4,88.6 55.4,108.2" fill="#fff" fill-opacity="0.05"/>
<polygon points="36.7,88.5 55.4,108.2 46.3,108.0" fill="#000" fill-opacity="0.03"/>
<polygon points="76.8,81.4 85.2,106.0 55.4,108.2" fill="#000" fill-opacity="0.02"/>
<polygon points="102.0,91.3 96.1,104.6 85.2,106.0" fill="#000" fill-opacity="0.04"/>
<polygon points="102.0,91.3 121.6,89.0 96.1,104.6" fill="#000" fill-opacity="0.05"/>
<polygon points="121.6,89.0 112.2,97.7 96.1,104.6" fill="#fff" fill-opacity="0.05"/>
<polygon points="121.6,89.0 140.1,88.1 142.1,105.9" fill="#fff" fill-opacity="0.02"/>
<polygon points="121.6,89.0 142.1,105.9 112.2,97.7" fill="#fff" fill-opacity="0.08"/>
<polygon points="140.1,88.1 151.4,85.2 142.1,105.9" fill="#fff" fill-opacity="0.03"/>
<polygon points="151.4,85.2 155.3,109.6 142.1,105.9" fill="#000" fill-opacity="0.02"/>
<polygon points="151.4,85.2 172.1,78.9 173.1,108.8" fill="#000" fill-opacity="0.06"/>
<polygon points="151.4,85.2 173.1,108.8 155.3,109.6" fill="#000" fill-opacity="0.04"/>
<polygon points="186.9,82.1 208.9,87.5 197.2,100.2" fill="#000" fill-opacity="0.04"/>
<polygon points="208.9,87.5 208.8,101.3 197.2,100.2" fill="#000" fill-opacity="0.03"/>
<polygon points="208.9,87.5 236.9,84.3 208.8,101.3" fill="#000" fill-opacity="0.06"/>
<polygon points="236.9,84.3 227.6,105.1 208.8,101.3" fill="#000" fill-opacity="0.06"/>
<polygon points="236.9,84.3 255.7,91.3 246.9,102.9" fill="#000" fill-opacity="0.05"/>
<polygon points="236.9,84.3 246.9,102.9 227.6,105.1" fill="#000" fill-opacity="0.02"/>
<polygon points="284.4,81.4 303.1,81.2 308.1,109.3" fill="#fff" fill-opacity="0.07"/>
<polygon points="284.4,81.4 308.1,109.3 286.1,103.5" fill="#000" fill-opacity="0.03"/>
<polygon points="303.1,81.2 327.6,90.2 325.0,109.4" fill="#000" fill-opacity="0.05"/>
<polygon points="303.1,81.2 325.0,109.4 308.1,109.3" fill="#fff" fill-opacity="0.02"/>
<polygon points="327.6,90.2 349.4,84.7 325.0,109.4" fill="#fff" fill-opacity="0.05"/>
<polygon points="349.4,84.7 366.0,88.9 364.3,97.7" fill="#000" fill-opacity="0.06"/>
<polygon points="349.4,84.7 364.3,97.7 345.0,104.4" fill="#fff" fill-opacity="0.02"/>
<polygon points="366.0,88.9 377.6,87.1 364.3,97.7" fill="#000" fill-opacity="0.02"/>
<polygon points="377.6,87.1 382.2,99.9 364.3,97.7" fill="#fff" fill-opacity="0.02"/>
<polygon points="377.6,87.1 407.3,88.7 395.6,107.9" fill="#fff" fill-opacity="0.07"/>
<polygon points="377.6,87.1 395.6,107.9 382.2,99.9" fill="#fff" fill-opacity="0.04"/>
<polygon points="407.3,88.7 424.3,84.7 416.7,103.7" fill="#fff" fill-opacity="0.07"/>
<polygon points="407.3,88.7 416.7,103.7 395.6,107.9" fill="#000" fill-opacity="0.05"/>
<polygon points="435.8,88.8 442.9,104.7 416.7,103.7" fill="#000" fill-opacity="0.03"/>
<polygon points="435.8,88.8 456.8,88.9 456.7,104.2" fill="#fff" fill-opacity="0.05"/>
<polygon points="435.8,88.8 456.7,104.2 442.9,104.7" fill="#000" fill-opacity="0.06"/>
<polygon points="456.8,88.9 484.1,83.6 456.7,104.2" fill="#fff" fill-opacity="0.07"/>
<polygon points="484.1,83.6 478.7,107.7 456.7,104.2" fill="#000" fill-opacity="0.04"/>
<polygon points="495.7,90.8 518.9,80.7 491.9,104.8" fill="#fff" fill-opacity="0.05"/>
<polygon points="518.9,80.7 512.7,101.1 491.9,104.8" fill="#000" fill-opacity="0.04"/>
<polygon points="17.2,99.5 46.3,108.0 41.8,126.4" fill="#000" fill-opacity="0.02"/>
<polygon points="17.2,99.5 41.8,126.4 25.5,123.1" fill="#000" fill-opacity="0.05"/>
<polygon points="46.3,108.0 55.4,108.2 41.8,126.4" fill="#fff" fill-opacity="0.05"/>
<polygon points="55.4,108.2 65.4,122.3 41.8,126.4" fill="#fff" fill-opacity="0.04"/>
<polygon points="55.4,108.2 85.2,106.0 80.5,123.1" fill="#fff" fill-opacity="0.06"/>
<polygon points="55.4,108.2 80.5,123.1 65.4,122.3" fill="#fff" fill-opacity="0.04"/>
<polygon points="85.2,106.0 96.1,104.6 98.2,125.5" fill="#fff" fill-opacity="0.04"/>
<polygon points="96.1,104.6 112.2,97.7 116.4,123.4" fill="#000" fill-opacity="0.05"/>
<polygon points="96.1,104.6 116.4,123.4 98.2,125.5" fill="#000" fill-opacity="0.03"/>
<polygon points="112.2,97.7 142.1,105.9 135.7,128.7" fill="#000" fill-opacity="0.02"/>
<polygon points="112.2,97.7 135.7,128.7 116.4,123.4" fill="#fff" fill-opacity="0.04"/>
<polygon points="142.1,105.9 155.3,109.6 135.7,128.7" fill="#fff" fill-opacity="0.06"/>
<polygon points="155.3,109.6 157.6,127.9 135.7,128.7" fill="#fff" fill-opacity="0.04"/>
<polygon points="197.2,100.2 193.8,128.8 179.7,119.9" fill="#000" fill-opacity="0.03"/>
<polygon points="197.2,100.2 208.8,101.3 193.8,128.8" fill="#fff" fill-opacity="0.08"/>
<polygon points="208.8,101.3 216.4,118.3 193.8,128.8" fill="#000" fill-opacity="0.03"/>
<polygon points="208.8,101.3 227.6,105.1 216.4,118.3" fill="#000" fill-opacity="0.06"/>
<polygon points="227.6,105.1 226.1,122.2 216.4,118.3" fill="#000" fill-opacity="0.03"/>
<polygon points="227.6,105.1 246.9,102.9 244.4,119.6" fill="#fff" fill-opacity="0.04"/>
<polygon points="227.6,105.1 244.4,119.6 226.1,122.2" fill="#fff" fill-opacity="0.08"/>
<polygon points="246.9,102.9 264.2,109.3 244.4,119.6" fill="#000" fill-opacity="0.02"/>
<polygon points="264.2,109.3 263.5,125.2 244.4,119.6" fill="#fff" fill-opacity="0.06"/>
<polygon points="264.2,109.3 286.1,103.5 291.7,128.2" fill="#000" fill-opacity="0.03"/>
<polygon points="264.2,109.3 291.7,128.2 263.5,125.2" fill="#fff" fill-opacity="0.07"/>
<polygon points="286.1,103.5 308.1,109.3 291.7,128.2" fill="#fff" fill-opacity="0.03"/>
<polygon points="308.1,109.3 302.5,125.8 291.7,128.2" fill="#fff" fill-opacity="0.03"/>
<polygon points="325.0,109.4 328.1,118.4 302.5,125.8" fill="#fff" fill-opacity="0.06"/>
<polygon points="325.0,109.4 345.0,104.4 328.1,118.4" fill="#fff" fill-opacity="0.06"/>
<polygon points="364.3,97.7 360.4,128.9 350.0,129.1" fill="#000" fill-opacity="0.02"/>
<polygon points="364.3,97.7 381.7,122.8 360.4,128.9" fill="#000" fill-opacity="0.05"/>
<polygon points="382.2,99.9 395.6,107.9 381.7,122.8" fill="#000" fill-opacity="0.04"/>
<polygon points="395.6,107.9 408.4,127.3 381.7,122.8" fill="#000" fill-opacity="0.06"/>
<polygon points="395.6,107.9 416.7,103.7 416.6,122.1" fill="#fff" fill-opacity="0.07"/>
<polygon points="395.6,107.9 416.6,122.1 408.4,127.3" fill="#000" fill-opacity="0.02"/>
<polygon points="416.7,103.7 442.9,104.7 440.2,120.9" fill="#000" fill-opacity="0.06"/>
<polygon points="416.7,103.7 440.2,120.9 416.6,122.1" fill="#000" fill-opacity="0.06"/>
<polygon points="442.9,104.7 456.7,104.2 440.2,120.9" fill="#fff" fill-opacity="0.02"/>
<polygon points="456.7,104.2 455.0,120.6 440.2,120.9" fill="#fff" fill-opacity="0.03"/>
<polygon points="456.7,104.2 478.7,107.7 455.0,120.6" fill="#000" fill-opacity="0.05"/>
<polygon points="478.7,107.7 491.9,104.8 497.7,122.2" fill="#fff" fill-opacity="0.05"/>
<polygon points="478.7,107.7 497.7,122.2 480.9,116.8" fill="#fff" fill-opacity="0.05"/>
<polygon points="491.9,104.8 512.7,101.1 497.7,122.2" fill="#000" fill-opacity="0.05"/>
<polygon points="512.7,101.1 509.7,120.8 497.7,122.2" fill="#fff" fill-opacity="0.06"/>
<polygon points="25.5,123.1 41.8,126.4 23.6,142.2" fill="#fff" fill-opacity="0.08"/>
<polygon points="41.8,126.4 35.3,148.3 23.6,142.2" fill="#000" fill-opacity="0.05"/>
<polygon points="41.8,126.4 65.4,122.3 63.7,148.1" fill="#000" fill-opacity="0.05"/>
<polygon points="41.8,126.4 63.7,148.1 35.3,148.3" fill="#000" fill-opacity="0.06"/>
<polygon points="65.4,122.3 80.5,123.1 63.7,148.1" fill="#fff" fill-opacity="0.05"/>
<polygon points="80.5,123.1 73.9,139.0 63.7,148.1" fill="#fff" fill-opacity="0.02"/>
<polygon points="80.5,123.1 98.2,125.5 73.9,139.0" fill="#fff" fill-opacity="0.02"/>
<polygon points="98.2,125.5 92.0,145.6 73.9,139.0" fill="#000" fill-opacity="0.03"/>
<polygon points="98.2,125.5 116.4,123.4 114.0,137.2" fill="#000" fill-opacity="0.05"/>
<polygon points="98.2,125.5 114.0,137.2 92.0,145.6" fill="#fff" fill-opacity="0.04"/>
<polygon points="116.4,123.4 135.7,128.7 135.0,147.3" fill="#000" fill-opacity="0.02"/>
<polygon points="135.7,128.7 157.6,127.9 159.1,138.9" fill="#000" fill-opacity="0.03"/>
<polygon points="135.7,128.7 159.1,138.9 135.0,147.3" fill="#000" fill-opacity="0.03"/>
<polygon points="157.6,127.9 179.7,119.9 159.1,138.9" fill="#000" fill-opacity="0.02"/>
<polygon points="179.7,119.9 169.4,147.4 159.1,138.9" fill="#000" fill-opacity="0.02"/>
<polygon points="193.8,128.8 193.9,144.6 169.4,147.4" fill="#fff" fill-opacity="0.06"/>
<polygon points="193.8,128.8 216.4,118.3 193.9,144.6" fill="#000" fill-opacity="0.06"/>
<polygon points="216.4,118.3 226.1,122.2 233.4,141.0" fill="#fff" fill-opacity="0.05"/>
<polygon points="216.4,118.3 233.4,141.0 206.7,136.2" fill="#000" fill-opacity="0.02"/>
<polygon points="244.4,119.6 244.4,147.7 233.4,141.0" fill="#000" fill-opacity="0.03"/>
<polygon points="244.4,119.6 263.5,125.2 244.4,147.7" fill="#000" fill-opacity="0.05"/>
<polygon points="263.5,125.2 270.7,145.9 244.4,147.7" fill="#fff" fill-opacity="0.05"/>
<polygon points="263.5,125.2 291.7,128.2 282.6,146.6" fill="#000" fill-opacity="0.06"/>
<polygon points="263.5,125.2 282.6,146.6 270.7,145.9" fill="#000" fill-opacity="0.04"/>
<polygon points="291.7,128.2 302.5,125.8 282.6,146.6" fill="#fff" fill-opacity="0.08"/>
<polygon points="302.5,125.8 301.4,146.7 282.6,146.6" fill="#000" fill-opacity="0.06"/>
<polygon points="302.5,125.8 325.4,139.9 301.4,146.7" fill="#fff" fill-opacity="0.05"/>
<polygon points="328.1,118.4 345.7,147.5 325.4,139.9" fill="#000" fill-opacity="0.02"/>
<polygon points="350.0,129.1 360.4,128.9 345.7,147.5" fill="#000" fill-opacity="0.03"/>
<polygon points="360.4,128.9 361.0,137.2 345.7,147.5" fill="#fff" fill-opacity="0.08"/>
<polygon points="360.4,128.9 381.7,122.8 383.3,138.6" fill="#000" fill-opacity="0.03"/>
<polygon points="360.4,128.9 383.3,138.6 361.0,137.2" fill="#fff" fill-opacity="0.03"/>
<polygon points="381.7,122.8 408.4,127.3 396.9,137.6" fill="#000" fill-opacity="0.05"/>
<polygon points="381.7,122.8 396.9,137.6 383.3,138.6" fill="#fff" fill-opacity="0.02"/>
<polygon points="408.4,127.3 416.6,122.1 415.2,138.1" fill="#fff" fill-opacity="0.05"/>
<polygon points="408.4,127.3 415.2,138.1 396.9,137.6" fill="#fff" fill-opacity="0.03"/>
<polygon points="416.6,122.1 440.2,120.9 415.2,138.1" fill="#fff" fill-opacity="0.02"/>
<polygon points="440.2,120.9 437.6,139.5 415.2,138.1" fill="#000" fill-opacity="0.02"/>
<polygon points="440.2,120.9 462.4,139.3 437.6,139.5" fill="#fff" fill-opacity="0.07"/>
<polygon points="455.0,120.6 480.9,116.8 478.0,137.8" fill="#fff" fill-opacity="0.07"/>
<polygon points="455.0,120.6 478.0,137.8 462.4,139.3" fill="#000" fill-opacity="0.06"/>
<polygon points="480.9,116.8 497.7,122.2 495.0,135.7" fill="#000" fill-opacity="0.03"/>
<polygon points="480.9,116.8 495.0,135.7 478.0,137.8" fill="#fff" fill-opacity="0.07"/>
<polygon points="509.7,120.8 512.8,135.7 495.0,135.7" fill="#fff" fill-opacity="0.07"/>
<polygon points="35.3,148.3 63.7,148.1 37.0,160.7" fill="#fff" fill-opacity="0.04"/>
<polygon points="63.7,148.1 65.7,155.9 37.0,160.7" fill="#fff" fill-opacity="0.02"/>
<polygon points="63.7,148.1 73.9,139.0 83.1,160.1" fill="#000" fill-opacity="0.02"/>
<polygon points="63.7,148.1 83.1,160.1 65.7,155.9" fill="#000" fill-opacity="0.04"/>
<polygon points="73.9,139.0 92.0,145.6 83.1,160.1" fill="#fff" fill-opacity="0.03"/>
<polygon points="92.0,145.6 97.9,165.3 83.1,160.1" fill="#fff" fill-opacity="0.04"/>
<polygon points="92.0,145.6 115.6,161.1 97.9,165.3" fill="#fff" fill-opacity="0.05"/>
<polygon points="114.0,137.2 135.0,147.3 115.6,161.1" fill="#000" fill-opacity="0.04"/>
<polygon points="135.0,147.3 159.1,138.9 138.4,167.3" fill="#000" fill-opacity="0.03"/>
<polygon points="159.1,138.9 153.0,165.3 138.4,167.3" fill="#000" fill-opacity="0.04"/>
<polygon points="159.1,138.9 169.4,147.4 176.7,162.8" fill="#fff" fill-opacity="0.03"/>
<polygon points="159.1,138.9 176.7,162.8 153.0,165.3" fill="#fff" fill-opacity="0.06"/>
<polygon points="169.4,147.4 193.9,144.6 191.8,159.0" fill="#000" fill-opacity="0.04"/>
<polygon points="169.4,147.4 191.8,159.0 176.7,162.8" fill="#000" fill-opacity="0.03"/>
<polygon points="193.9,144.6 206.2,156.2 191.8,159.0" fill="#000" fill-opacity="0.04"/>
<polygon points="206.7,136.2 233.4,141.0 225.4,164.1" fill="#000" fill-opacity="0.04"/>
<polygon points="206.7,136.2 225.4,164.1 206.2,156.2" fill="#fff" fill-opacity="0.08"/>
<polygon points="233.4,141.0 244.4,147.7 225.4,164.1" fill="#000" fill-opacity="0.05"/>
<polygon points="244.4,147.7 246.8,156.6 225.4,164.1" fill="#fff" fill-opacity="0.08"/>
<polygon points="244.4,147.7 263.6,165.4 246.8,156.6" fill="#fff" fill-opacity="0.08"/>
<polygon points="270.7,145.9 282.6,146.6 263.6,165.4" fill="#fff" fill-opacity="0.04"/>
<polygon points="282.6,146.6 301.4,146.7 304.2,157.6" fill="#fff" fill-opacity="0.02"/>
<polygon points="282.6,146.6 304.2,157.6 292.8,163.2" fill="#000" fill-opacity="0.05"/>
<polygon points="301.4,146.7 323.3,160.5 304.2,157.6" fill="#000" fill-opacity="0.06"/>
<polygon points="325.4,139.9 345.7,147.5 340.5,160.3" fill="#fff" fill-opacity="0.05"/>
<polygon points="325.4,139.9 340.5,160.3 323.3,160.5" fill="#fff" fill-opacity="0.03"/>
<polygon points="345.7,147.5 361.0,137.2 340.5,160.3" fill="#fff" fill-opacity="0.02"/>
<polygon points="383.3,138.6 396.9,137.6 389.1,161.6" fill="#fff" fill-opacity="0.07"/>
<polygon points="396.9,137.6 415.2,138.1 398.7,167.1" fill="#fff" fill-opacity="0.04"/>
<polygon points="415.2,138.1 437.6,139.5 433.5,159.5" fill="#fff" fill-opacity="0.04"/>
<polygon points="415.2,138.1 433.5,159.5 418.5,159.1" fill="#fff" fill-opacity="0.06"/>
<polygon points="437.6,139.5 462.4,139.3 433.5,159.5" fill="#fff" fill-opacity="0.03"/>
<polygon points="462.4,139.3 458.7,161.0 433.5,159.5" fill="#fff" fill-opacity="0.06"/>
<polygon points="462.4,139.3 478.0,137.8 458.7,161.0" fill="#fff" fill-opacity="0.02"/>
<polygon points="478.0,137.8 495.0,135.7 490.6,157.9" fill="#fff" fill-opacity="0.02"/>
<polygon points="478.0,137.8 490.6,157.9 474.1,161.1" fill="#000" fill-opacity="0.05"/>
<polygon points="495.0,135.7 512.8,135.7 510.7,159.7" fill="#fff" fill-opacity="0.05"/>
<polygon points="495.0,135.7 510.7,159.7 490.6,157.9" fill="#fff" fill-opacity="0.04"/>
<polygon points="25.0,161.7 37.0,160.7 16.0,173.8" fill="#000" fill-opacity="0.03"/>
<polygon points="65.7,155.9 83.1,160.1 61.1,180.4" fill="#fff" fill-opacity="0.07"/>
<polygon points="83.1,160.1 82.3,182.0 61.1,180.4" fill="#000" fill-opacity="0.04"/>
<polygon points="83.1,160.1 97.9,165.3 82.3,182.0" fill="#fff" fill-opacity="0.05"/>
<polygon points="97.9,165.3 115.6,161.1 115.6,177.7" fill="#fff" fill-opacity="0.08"/>
<polygon points="97.9,165.3 115.6,177.7 100.8,184.9" fill="#000" fill-opacity="0.06"/>
<polygon points="115.6,161.1 138.4,167.3 115.6,177.7" fill="#000" fill-opacity="0.04"/>
<polygon points="138.4,167.3 142.3,175.4 115.6,177.7" fill="#fff" fill-opacity="0.05"/>
<polygon points="153.0,165.3 157.9,181.9 142.3,175.4" fill="#000" fill-opacity="0.05"/>
<polygon points="176.7,162.8 168.1,184.4 157.9,181.9" fill="#fff" fill-opacity="0.04"/>
<polygon points="176.7,162.8 191.8,159.0 168.1,184.4" fill="#fff" fill-opacity="0.02"/>
<polygon points="191.8,159.0 198.1,181.7 168.1,184.4" fill="#fff" fill-opacity="0.06"/>
<polygon points="206.2,156.2 215.0,184.1 198.1,181.7" fill="#fff" fill-opacity="0.08"/>
<polygon points="206.2,156.2 225.4,164.1 226.3,180.3" fill="#fff" fill-opacity="0.03"/>
<polygon points="225.4,164.1 246.8,156.6 226.3,180.3" fill="#000" fill-opacity="0.05"/>
<polygon points="246.8,156.6 250.1,184.4 226.3,180.3" fill="#fff" fill-opacity="0.08"/>
<polygon points="246.8,156.6 263.6,165.4 273.0,184.2" fill="#000" fill-opacity="0.05"/>
<polygon points="246.8,156.6 273.0,184.2 250.1,184.4" fill="#000" fill-opacity="0.03"/>
<polygon points="263.6,165.4 292.8,163.2 289.1,185.1" fill="#000" fill-opacity="0.06"/>
<polygon points="292.8,163.2 304.2,157.6 309.4,182.5" fill="#fff" fill-opacity="0.03"/>
<polygon points="292.8,163.2 309.4,182.5 289.1,185.1" fill="#000" fill-opacity="0.02"/>
<polygon points="304.2,157.6 323.3,160.5 322.5,173.9" fill="#000" fill-opacity="0.03"/>
<polygon points="304.2,157.6 322.5,173.9 309.4,182.5" fill="#fff" fill-opacity="0.04"/>
<polygon points="340.5,160.3 340.2,178.2 322.5,173.9" fill="#000" fill-opacity="0.03"/>
<polygon points="360.9,167.0 358.9,184.4 340.2,178.2" fill="#000" fill-opacity="0.03"/>
<polygon points="360.9,167.0 389.1,161.6 383.8,181.7" fill="#fff" fill-opacity="0.05"/>
<polygon points="360.9,167.0 383.8,181.7 358.9,184.4" fill="#fff" fill-opacity="0.05"/>
<polygon points="398.7,167.1 418.5,159.1 420.9,173.5" fill="#fff" fill-opacity="0.08"/>
<polygon points="398.7,167.1 420.9,173.5 403.6,182.3" fill="#000" fill-opacity="0.02"/>
<polygon points="418.5,159.1 433.5,159.5 420.9,173.5" fill="#fff" fill-opacity="0.05"/>
<polygon points="433.5,159.5 443.9,183.2 420.9,173.5" fill="#fff" fill-opacity="0.05"/>
<polygon points="433.5,159.5 458.7,161.0 459.0,180.5" fill="#000" fill-opacity="0.02"/>
<polygon points="458.7,161.0 474.1,161.1 480.1,174.4" fill="#fff" fill-opacity="0.06"/>
<polygon points="458.7,161.0 480.1,174.4 459.0,180.5" fill="#000" fill-opacity="0.02"/>
<polygon points="474.1,161.1 490.6,157.9 480.1,174.4" fill="#000" fill-opacity="0.03"/>
<polygon points="490.6,157.9 510.5,177.0 500.1,176.8" fill="#000" fill-opacity="0.04"/>
<polygon points="16.0,173.8 38.5,176.5 44.1,205.2" fill="#fff" fill-opacity="0.04"/>
<polygon points="16.0,173.8 44.1,205.2 25.0,195.2" fill="#000" fill-opacity="0.03"/>
<polygon points="38.5,176.5 61.1,180.4 59.9,197.5" fill="#000" fill-opacity="0.02"/>
<polygon points="61.1,180.4 82.3,182.0 78.7,201.4" fill="#fff" fill-opacity="0.02"/>
<polygon points="61.1,180.4 78.7,201.4 59.9,197.5" fill="#fff" fill-opacity="0.03"/>
<polygon points="82.3,182.0 100.8,184.9 101.5,200.5" fill="#fff" fill-opacity="0.07"/>
<polygon points="82.3,182.0 101.5,200.5 78.7,201.4" fill="#fff" fill-opacity="0.06"/>
<polygon points="100.8,184.9 115.6,177.7 118.9,193.5" fill="#fff" fill-opacity="0.06"/>
<polygon points="100.8,184.9 118.9,193.5 101.5,200.5" fill="#fff" fill-opacity="0.07"/>
<polygon points="115.6,177.7 142.3,175.4 118.9,193.5" fill="#000" fill-opacity="0.04"/>
<polygon points="142.3,175.4 131.4,195.8 118.9,193.5" fill="#fff" fill-opacity="0.06"/>
<polygon points="142.3,175.4 157.9,181.9 131.4,195.8" fill="#000" fill-opacity="0.06"/>
<polygon points="157.9,181.9 158.2,196.5 131.4,195.8" fill="#000" fill-opacity="0.06"/>
<polygon points="157.9,181.9 168.1,184.4 158.2,196.5" fill="#fff" fill-opacity="0.03"/>
<polygon points="168.1,184.4 174.9,192.7 158.2,196.5" fill="#000" fill-opacity="0.03"/>
<polygon points="168.1,184.4 198.1,181.7 187.3,196.0" fill="#000" fill-opacity="0.04"/>
<polygon points="168.1,184.4 187.3,196.0 174.9,192.7" fill="#000" fill-opacity="0.03"/>
<polygon points="198.1,181.7 215.0,184.1 187.3,196.0" fill="#000" fill-opacity="0.02"/>
<polygon points="215.0,184.1 214.2,201.5 187.3,196.0" fill="#000" fill-opacity="0.04"/>
<polygon points="215.0,184.1 226.3,180.3 214.2,201.5" fill="#fff" fill-opacity="0.05"/>
<polygon points="226.3,180.3 233.3,196.3 214.2,201.5" fill="#000" fill-opacity="0.04"/>
<polygon points="250.1,184.4 250.2,198.5 233.3,196.3" fill="#fff" fill-opacity="0.05"/>
<polygon points="250.1,184.4 273.0,184.2 250.2,198.5" fill="#fff" fill-opacity="0.07"/>
<polygon points="273.0,184.2 268.6,194.0 250.2,198.5" fill="#fff" fill-opacity="0.05"/>
<polygon points="273.0,184.2 289.1,185.1 268.6,194.0" fill="#000" fill-opacity="0.04"/>
<polygon points="289.1,185.1 293.1,195.1 268.6,194.0" fill="#fff" fill-opacity="0.03"/>
<polygon points="289.1,185.1 309.4,182.5 293.1,195.1" fill="#fff" fill-opacity="0.04"/>
<polygon points="322.5,173.9 319.7,198.5 313.2,204.7" fill="#000" fill-opacity="0.03"/>
<polygon points="322.5,173.9 340.2,178.2 349.2,205.1" fill="#000" fill-opacity="0.04"/>
<polygon points="340.2,178.2 363.3,196.0 349.2,205.1" fill="#000" fill-opacity="0.04"/>
<polygon points="383.8,181.7 403.6,182.3 379.2,204.8" fill="#000" fill-opacity="0.06"/>
<polygon points="403.6,182.3 398.2,200.1 379.2,204.8" fill="#fff" fill-opacity="0.06"/>
<polygon points="403.6,182.3 416.3,199.3 398.2,200.1" fill="#fff" fill-opacity="0.03"/>
<polygon points="420.9,173.5 443.9,183.2 416.3,199.3" fill="#000" fill-opacity="0.02"/>
<polygon points="443.9,183.2 459.0,180.5 445.9,194.2" fill="#000" fill-opacity="0.05"/>
<polygon points="459.0,180.5 463.2,199.1 445.9,194.2" fill="#fff" fill-opacity="0.02"/>
<polygon points="459.0,180.5 480.1,174.4 463.2,199.1" fill="#000" fill-opacity="0.06"/>
<polygon points="480.1,174.4 500.1,176.8 483.0,201.6" fill="#fff" fill-opacity="0.07"/>
<polygon points="500.1,176.8 493.5,204.2 483.0,201.6" fill="#000" fill-opacity="0.02"/>
<polygon points="25.0,195.2 44.1,205.2 15.5,217.9" fill="#000" fill-opacity="0.06"/>
<polygon points="44.1,205.2 40.4,215.4 15.5,217.9" fill="#fff" fill-opacity="0.04"/>
<polygon points="44.1,205.2 59.9,197.5 40.4,215.4" fill="#000" fill-opacity="0.02"/>
<polygon points="59.9,197.5 55.3,216.0 40.4,215.4" fill="#fff" fill-opacity="0.06"/>
<polygon points="78.7,201.4 101.5,200.5 76.6,222.4" fill="#000" fill-opacity="0.03"/>
<polygon points="101.5,200.5 121.4,213.1 91.5,221.3" fill="#fff" fill-opacity="0.06"/>
<polygon points="118.9,193.5 131.4,195.8 141.5,220.8" fill="#fff" fill-opacity="0.06"/>
<polygon points="131.4,195.8 158.2,196.5 141.5,220.8" fill="#000" fill-opacity="0.03"/>
<polygon points="158.2,196.5 174.9,192.7 160.2,215.3" fill="#fff" fill-opacity="0.03"/>
<polygon points="174.9,192.7 172.3,216.6 160.2,215.3" fill="#fff" fill-opacity="0.05"/>
<polygon points="174.9,192.7 187.3,196.0 199.5,219.2" fill="#000" fill-opacity="0.02"/>
<polygon points="174.9,192.7 199.5,219.2 172.3,216.6" fill="#000" fill-opacity="0.02"/>
<polygon points="187.3,196.0 214.2,201.5 199.5,219.2" fill="#fff" fill-opacity="0.02"/>
<polygon points="214.2,201.5 210.2,217.1 199.5,219.2" fill="#fff" fill-opacity="0.05"/>
<polygon points="214.2,201.5 233.3,196.3 228.1,212.1" fill="#fff" fill-opacity="0.04"/>
<polygon points="214.2,201.5 228.1,212.1 210.2,217.1" fill="#fff" fill-opacity="0.07"/>
<polygon points="233.3,196.3 250.2,198.5 228.1,212.1" fill="#000" fill-opacity="0.05"/>
<polygon points="250.2,198.5 244.8,222.4 228.1,212.1" fill="#000" fill-opacity="0.02"/>
<polygon points="250.2,198.5 268.6,194.0 266.2,223.7" fill="#000" fill-opacity="0.04"/>
<polygon points="250.2,198.5 266.2,223.7 244.8,222.4" fill="#fff" fill-opacity="0.07"/>
<polygon points="268.6,194.0 293.1,195.1 266.2,223.7" fill="#fff" fill-opacity="0.03"/>
<polygon points="293.1,195.1 284.7,215.0 266.2,223.7" fill="#fff" fill-opacity="0.05"/>
<polygon points="313.2,204.7 319.7,198.5 307.1,214.0" fill="#fff" fill-opacity="0.03"/>
<polygon points="319.7,198.5 349.2,205.1 324.4,223.9" fill="#000" fill-opacity="0.03"/>
<polygon points="349.2,205.1 350.0,222.1 324.4,223.9" fill="#fff" fill-opacity="0.03"/>
<polygon points="349.2,205.1 363.3,196.0 365.7,223.4" fill="#fff" fill-opacity="0.04"/>
<polygon points="349.2,205.1 365.7,223.4 350.0,222.1" fill="#000" fill-opacity="0.05"/>
<polygon points="363.3,196.0 379.2,204.8 388.7,218.6" fill="#000" fill-opacity="0.06"/>
<polygon points="363.3,196.0 388.7,218.6 365.7,223.4" fill="#fff" fill-opacity="0.05"/>
<polygon points="379.2,204.8 398.2,200.1 388.7,218.6" fill="#fff" fill-opacity="0.03"/>
<polygon points="398.2,200.1 404.9,212.1 388.7,218.6" fill="#000" fill-opacity="0.02"/>
<polygon points="398.2,200.1 416.3,199.3 404.9,212.1" fill="#fff" fill-opacity="0.05"/>
<polygon points="416.3,199.3 445.9,194.2 443.3,219.9" fill="#000" fill-opacity="0.02"/>
<polygon points="445.9,194.2 456.2,212.1 443.3,219.9" fill="#fff" fill-opacity="0.02"/>
<polygon points="463.2,199.1 483.0,201.6 456.2,212.1" fill="#000" fill-opacity="0.05"/>
<polygon points="483.0,201.6 493.5,204.2 496.6,216.0" fill="#000" fill-opacity="0.05"/>
<polygon points="483.0,201.6 496.6,216.0 483.5,213.2" fill="#fff" fill-opacity="0.05"/>
<polygon points="493.5,204.2 515.8,192.8 496.6,216.0" fill="#fff" fill-opacity="0.07"/>
<polygon points="40.4,215.4 55.3,216.0 43.0,234.4" fill="#fff" fill-opacity="0.08"/>
<polygon points="55.3,216.0 76.6,222.4 74.7,232.6" fill="#000" fill-opacity="0.05"/>
<polygon points="55.3,216.0 74.7,232.6 60.7,235.6" fill="#fff" fill-opacity="0.02"/>
<polygon points="76.6,222.4 91.5,221.3 94.2,242.3" fill="#000" fill-opacity="0.04"/>
<polygon points="76.6,222.4 94.2,242.3 74.7,232.6" fill="#000" fill-opacity="0.06"/>
<polygon points="91.5,221.3 121.4,213.1 117.0,233.4" fill="#fff" fill-opacity="0.03"/>
<polygon points="91.5,221.3 117.0,233.4 94.2,242.3" fill="#000" fill-opacity="0.05"/>
<polygon points="121.4,213.1 141.5,220.8 117.0,233.4" fill="#000" fill-opacity="0.05"/>
<polygon points="141.5,220.8 141.3,243.5 117.0,233.4" fill="#fff" fill-opacity="0.06"/>
<polygon points="141.5,220.8 160.2,215.3 154.3,232.3" fill="#000" fill-opacity="0.06"/>
<polygon points="141.5,220.8 154.3,232.3 141.3,243.5" fill="#fff" fill-opacity="0.04"/>
<polygon points="160.2,215.3 172.3,216.6 170.0,231.7" fill="#fff" fill-opacity="0.04"/>
<polygon points="160.2,215.3 170.0,231.7 154.3,232.3" fill="#000" fill-opacity="0.04"/>
<polygon points="172.3,216.6 199.5,219.2 190.9,231.7" fill="#fff" fill-opacity="0.05"/>
<polygon points="172.3,216.6 190.9,231.7 170.0,231.7" fill="#fff" fill-opacity="0.04"/>
<polygon points="199.5,219.2 210.2,217.1 190.9,231.7" fill="#fff" fill-opacity="0.04"/>
<polygon points="210.2,217.1 208.6,233.9 190.9,231.7" fill="#000" fill-opacity="0.05"/>
<polygon points="210.2,217.1 228.1,212.1 208.6,233.9" fill="#fff" fill-opacity="0.04"/>
<polygon points="228.1,212.1 244.8,222.4 231.9,242.0" fill="#000" fill-opacity="0.03"/>
<polygon points="244.8,222.4 253.2,235.9 231.9,242.0" fill="#fff" fill-opacity="0.08"/>
<polygon points="244.8,222.4 266.2,223.7 253.2,235.9" fill="#000" fill-opacity="0.06"/>
<polygon points="266.2,223.7 267.9,237.3 253.2,235.9" fill="#000" fill-opacity="0.06"/>
<polygon points="266.2,223.7 284.7,215.0 267.9,237.3" fill="#fff" fill-opacity="0.05"/>
<polygon points="284.7,215.0 286.4,234.9 267.9,237.3" fill="#000" fill-opacity="0.05"/>
<polygon points="284.7,215.0 307.1,214.0 301.3,234.1" fill="#fff" fill-opacity="0.04"/>
<polygon points="284.7,215.0 301.3,234.1 286.4,234.9" fill="#000" fill-opacity="0.04"/>
<polygon points="324.4,223.9 332.1,232.1 301.3,234.1" fill="#000" fill-opacity="0.05"/>
<polygon points="350.0,222.1 365.7,223.4 345.0,238.7" fill="#000" fill-opacity="0.04"/>
<polygon points="365.7,223.4 368.7,233.3 345.0,238.7" fill="#fff" fill-opacity="0.05"/>
<polygon points="365.7,223.4 388.7,218.6 380.0,233.7" fill="#fff" fill-opacity="0.02"/>
<polygon points="365.7,223.4 380.0,233.7 368.7,233.3" fill="#fff" fill-opacity="0.02"/>
<polygon points="388.7,218.6 400.7,236.3 380.0,233.7" fill="#fff" fill-opacity="0.05"/>
<polygon points="404.9,212.1 424.0,217.4 400.7,236.3" fill="#fff" fill-opacity="0.05"/>
<polygon points="424.0,217.4 443.3,219.9 444.8,230.8" fill="#000" fill-opacity="0.05"/>
<polygon points="424.0,217.4 444.8,230.8 426.9,241.5" fill="#fff" fill-opacity="0.08"/>
<polygon points="443.3,219.9 456.2,212.1 444.8,230.8" fill="#fff" fill-opacity="0.06"/>
<polygon points="456.2,212.1 452.9,239.7 444.8,230.8" fill="#000" fill-opacity="0.02"/>
<polygon points="456.2,212.1 483.5,213.2 452.9,239.7" fill="#fff" fill-opacity="0.08"/>
<polygon points="483.5,213.2 483.1,236.7 452.9,239.7" fill="#fff" fill-opacity="0.06"/>
<polygon points="483.5,213.2 496.6,216.0 483.1,236.7" fill="#000" fill-opacity="0.02"/>
<polygon points="513.4,221.1 514.6,242.5 498.1,230.5" fill="#fff" fill-opacity="0.03"/>
<polygon points="28.2,233.9 43.0,234.4 26.2,260.6" fill="#fff" fill-opacity="0.07"/>
<polygon points="43.0,234.4 47.1,252.7 26.2,260.6" fill="#fff" fill-opacity="0.05"/>
<polygon points="43.0,234.4 60.7,235.6 54.9,251.5" fill="#000" fill-opacity="0.06"/>
<polygon points="43.0,234.4 54.9,251.5 47.1,252.7" fill="#000" fill-opacity="0.03"/>
<polygon points="60.7,235.6 79.3,258.4 54.9,251.5" fill="#fff" fill-opacity="0.05"/>
<polygon points="74.7,232.6 94.2,242.3 79.3,258.4" fill="#000" fill-opacity="0.05"/>
<polygon points="94.2,242.3 103.7,258.9 79.3,258.4" fill="#fff" fill-opacity="0.06"/>
<polygon points="94.2,242.3 117.0,233.4 103.7,258.9" fill="#fff" fill-opacity="0.06"/>
<polygon points="117.0,233.4 141.3,243.5 135.4,256.7" fill="#fff" fill-opacity="0.06"/>
<polygon points="117.0,233.4 135.4,256.7 118.9,259.4" fill="#fff" fill-opacity="0.05"/>
<polygon points="141.3,243.5 154.3,232.3 135.4,256.7" fill="#fff" fill-opacity="0.07"/>
<polygon points="154.3,232.3 149.0,259.7 135.4,256.7" fill="#000" fill-opacity="0.02"/>
<polygon points="154.3,232.3 170.5,261.5 149.0,259.7" fill="#fff" fill-opacity="0.05"/>
<polygon points="170.0,231.7 190.9,231.7 194.9,253.4" fill="#fff" fill-opacity="0.04"/>
<polygon points="170.0,231.7 194.9,253.4 170.5,261.5" fill="#fff" fill-opacity="0.07"/>
<polygon points="190.9,231.7 207.2,252.8 194.9,253.4" fill="#fff" fill-opacity="0.03"/>
<polygon points="208.6,233.9 231.9,242.0 232.8,258.6" fill="#000" fill-opacity="0.04"/>
<polygon points="208.6,233.9 232.8,258.6 207.2,252.8" fill="#000" fill-opacity="0.03"/>
<polygon points="231.9,242.0 253.2,235.9 232.8,258.6" fill="#fff" fill-opacity="0.05"/>
<polygon points="253.2,235.9 267.9,237.3 269.3,257.1" fill="#fff" fill-opacity="0.05"/>
<polygon points="253.2,235.9 269.3,257.1 245.0,250.4" fill="#fff" fill-opacity="0.05"/>
<polygon points="267.9,237.3 286.5,252.4 269.3,257.1" fill="#fff" fill-opacity="0.07"/>
<polygon points="301.3,234.1 332.1,232.1 308.3,249.6" fill="#000" fill-opacity="0.04"/>
<polygon points="332.1,232.1 323.4,255.5 308.3,249.6" fill="#000" fill-opacity="0.04"/>
<polygon points="332.1,232.1 345.0,238.7 351.0,257.9" fill="#fff" fill-opacity="0.03"/>
<polygon points="332.1,232.1 351.0,257.9 323.4,255.5" fill="#000" fill-opacity="0.02"/>
<polygon points="368.7,233.3 380.0,233.7 379.6,252.7" fill="#000" fill-opacity="0.05"/>
<polygon points="368.7,233.3 379.6,252.7 369.0,255.7" fill="#fff" fill-opacity="0.08"/>
<polygon points="380.0,233.7 400.7,236.3 408.0,258.7" fill="#000" fill-opacity="0.05"/>
<polygon points="380.0,233.7 408.0,258.7 379.6,252.7" fill="#fff" fill-opacity="0.02"/>
<polygon points="400.7,236.3 426.9,241.5 408.0,258.7" fill="#000" fill-opacity="0.04"/>
<polygon points="426.9,241.5 440.0,258.3 418.5,249.8" fill="#000" fill-opacity="0.06"/>
<polygon points="444.8,230.8 452.9,239.7 458.0,252.8" fill="#fff" fill-opacity="0.08"/>
<polygon points="444.8,230.8 458.0,252.8 440.0,258.3" fill="#fff" fill-opacity="0.06"/>
<polygon points="452.9,239.7 480.2,261.5 458.0,252.8" fill="#000" fill-opacity="0.03"/>
<polygon points="498.1,230.5 493.4,249.9 480.2,261.5" fill="#fff" fill-opacity="0.08"/>
<polygon points="498.1,230.5 514.6,242.5 493.4,249.9" fill="#fff" fill-opacity="0.05"/>
<polygon points="514.6,242.5 513.9,255.0 493.4,249.9" fill="#fff" fill-opacity="0.08"/>
<polygon points="26.2,260.6 47.1,252.7 44.9,278.1" fill="#000" fill-opacity="0.06"/>
<polygon points="26.2,260.6 44.9,278.1 24.4,271.1" fill="#000" fill-opacity="0.04"/>
<polygon points="47.1,252.7 54.9,251.5 60.1,271.2" fill="#000" fill-opacity="0.05"/>
<polygon points="47.1,252.7 60.1,271.2 44.9,278.1" fill="#000" fill-opacity="0.05"/>
<polygon points="54.9,251.5 79.3,258.4 60.1,271.2" fill="#fff" fill-opacity="0.06"/>
<polygon points="79.3,258.4 103.7,258.9 85.1,272.6" fill="#fff" fill-opacity="0.07"/>
<polygon points="103.7,258.9 102.2,271.5 85.1,272.6" fill="#000" fill-opacity="0.05"/>
<polygon points="118.9,259.4 113.4,278.4 102.2,271.5" fill="#000" fill-opacity="0.05"/>
<polygon points="118.9,259.4 135.4,256.7 113.4,278.4" fill="#000" fill-opacity="0.03"/>
<polygon points="135.4,256.7 149.0,259.7 133.3,280.9" fill="#fff" fill-opacity="0.08"/>
<polygon points="149.0,259.7 154.9,270.9 133.3,280.9" fill="#fff" fill-opacity="0.03"/>
<polygon points="149.0,259.7 170.4,273.9 154.9,270.9" fill="#000" fill-opacity="0.04"/>
<polygon points="170.5,261.5 194.9,253.4 170.4,273.9" fill="#fff" fill-opacity="0.08"/>
<polygon points="194.9,253.4 195.1,280.8 170.4,273.9" fill="#000" fill-opacity="0.03"/>
<polygon points="194.9,253.4 207.2,252.8 207.4,273.6" fill="#000" fill-opacity="0.03"/>
<polygon points="194.9,253.4 207.4,273.6 195.1,280.8" fill="#000" fill-opacity="0.02"/>
<polygon points="207.2,252.8 232.8,258.6 207.4,273.6" fill="#fff" fill-opacity="0.07"/>
<polygon points="232.8,258.6 227.3,281.2 207.4,273.6" fill="#fff" fill-opacity="0.06"/>
<polygon points="232.8,258.6 245.0,250.4 245.3,269.2" fill="#fff" fill-opacity="0.05"/>
<polygon points="232.8,258.6 245.3,269.2 227.3,281.2" fill="#fff" fill-opacity="0.04"/>
<polygon points="245.0,250.4 269.3,257.1 245.3,269.2" fill="#fff" fill-opacity="0.08"/>
<polygon points="269.3,257.1 263.3,273.6 245.3,269.2" fill="#000" fill-opacity="0.05"/>
<polygon points="269.3,257.1 286.5,252.4 293.2,280.0" fill="#fff" fill-opacity="0.04"/>
<polygon points="269.3,257.1 293.2,280.0 263.3,273.6" fill="#fff" fill-opacity="0.07"/>
<polygon points="286.5,252.4 308.3,249.6 293.2,280.0" fill="#000" fill-opacity="0.02"/>
<polygon points="308.3,249.6 323.4,255.5 310.0,281.5" fill="#000" fill-opacity="0.05"/>
<polygon points="323.4,255.5 331.6,272.8 310.0,281.5" fill="#000" fill-opacity="0.02"/>
<polygon points="323.4,255.5 351.0,257.9 340.9,280.7" fill="#000" fill-opacity="0.05"/>
<polygon points="351.0,257.9 369.0,255.7 367.2,268.9" fill="#000" fill-opacity="0.03"/>
<polygon points="351.0,257.9 367.2,268.9 340.9,280.7" fill="#000" fill-opacity="0.04"/>
<polygon points="369.0,255.7 379.6,252.7 367.2,268.9" fill="#000" fill-opacity="0.06"/>
<polygon points="379.6,252.7 385.1,273.4 367.2,268.9" fill="#fff" fill-opacity="0.04"/>
<polygon points="379.6,252.7 408.0,258.7 400.4,272.8" fill="#000" fill-opacity="0.06"/>
<polygon points="379.6,252.7 400.4,272.8 385.1,273.4" fill="#fff" fill-opacity="0.07"/>
<polygon points="408.0,258.7 418.5,249.8 416.7,268.5" fill="#fff" fill-opacity="0.07"/>
<polygon points="408.0,258.7 416.7,268.5 400.4,272.8" fill="#fff" fill-opacity="0.06"/>
<polygon points="418.5,249.8 440.0,258.3 416.7,268.5" fill="#000" fill-opacity="0.04"/>
<polygon points="440.0,258.3 458.0,252.8 464.9,270.1" fill="#fff" fill-opacity="0.07"/>
<polygon points="440.0,258.3 464.9,270.1 437.1,273.1" fill="#fff" fill-opacity="0.06"/>
<polygon points="480.2,261.5 484.0,271.2 464.9,270.1" fill="#000" fill-opacity="0.02"/>
<polygon points="493.4,249.9 495.1,279.2 484.0,271.2" fill="#fff" fill-opacity="0.02"/>
<polygon points="493.4,249.9 513.9,255.0 520.2,274.1" fill="#000" fill-opacity="0.03"/>
<polygon points="493.4,249.9 520.2,274.1 495.1,279.2" fill="#000" fill-opacity="0.05"/>
<polygon points="44.9,278.1 39.3,299.5 16.1,293.7" fill="#000" fill-opacity="0.04"/>
<polygon points="44.9,278.1 60.1,271.2 39.3,299.5" fill="#000" fill-opacity="0.03"/>
<polygon points="60.1,271.2 85.1,272.6 84.2,287.9" fill="#000" fill-opacity="0.03"/>
<polygon points="60.1,271.2 84.2,287.9 56.0,292.2" fill="#fff" fill-opacity="0.06"/>
<polygon points="85.1,272.6 102.2,271.5 96.8,298.1" fill="#000" fill-opacity="0.04"/>
<polygon points="102.2,271.5 113.4,278.4 120.5,288.0" fill="#fff" fill-opacity="0.07"/>
<polygon points="102.2,271.5 120.5,288.0 96.8,298.1" fill="#000" fill-opacity="0.05"/>
<polygon points="113.4,278.4 133.3,280.9 120.5,288.0" fill="#000" fill-opacity="0.05"/>
<polygon points="133.3,280.9 130.0,288.3 120.5,288.0" fill="#fff" fill-opacity="0.07"/>
<polygon points="133.3,280.9 154.9,270.9 130.0,288.3" fill="#000" fill-opacity="0.03"/>
<polygon points="154.9,270.9 170.4,273.9 177.2,299.2" fill="#000" fill-opacity="0.03"/>
<polygon points="154.9,270.9 177.2,299.2 160.5,290.8" fill="#000" fill-opacity="0.04"/>
<polygon points="170.4,273.9 195.1,280.8 190.9,291.0" fill="#fff" fill-opacity="0.08"/>
<polygon points="170.4,273.9 190.9,291.0 177.2,299.2" fill="#fff" fill-opacity="0.08"/>
<polygon points="195.1,280.8 207.4,273.6 190.9,291.0" fill="#000" fill-opacity="0.05"/>
<polygon points="207.4,273.6 217.9,295.5 190.9,291.0" fill="#000" fill-opacity="0.03"/>
<polygon points="207.4,273.6 227.3,281.2 217.9,295.5" fill="#000" fill-opacity="0.05"/>
<polygon points="227.3,281.2 227.9,296.8 217.9,295.5" fill="#fff" fill-opacity="0.04"/>
<polygon points="227.3,281.2 245.3,269.2 247.6,291.1" fill="#fff" fill-opacity="0.08"/>
<polygon points="227.3,281.2 247.6,291.1 227.9,296.8" fill="#000" fill-opacity="0.06"/>
<polygon points="245.3,269.2 263.3,273.6 247.6,291.1" fill="#000" fill-opacity="0.02"/>
<polygon points="263.3,273.6 262.5,297.3 247.6,291.1" fill="#000" fill-opacity="0.04"/>
<polygon points="263.3,273.6 293.2,280.0 293.4,295.7" fill="#fff" fill-opacity="0.06"/>
<polygon points="293.2,280.0 312.8,287.8 293.4,295.7" fill="#fff" fill-opacity="0.07"/>
<polygon points="310.0,281.5 322.5,293.7 312.8,287.8" fill="#000" fill-opacity="0.04"/>
<polygon points="331.6,272.8 340.9,280.7 350.9,299.9" fill="#fff" fill-opacity="0.05"/>
<polygon points="331.6,272.8 350.9,299.9 322.5,293.7" fill="#fff" fill-opacity="0.04"/>
<polygon points="340.9,280.7 367.2,268.9 362.5,290.8" fill="#000" fill-opacity="0.05"/>
<polygon points="340.9,280.7 362.5,290.8 350.9,299.9" fill="#000" fill-opacity="0.05"/>
<polygon points="385.1,273.4 382.1,293.9 362.5,290.8" fill="#000" fill-opacity="0.03"/>
<polygon points="385.1,273.4 407.6,289.9 382.1,293.9" fill="#fff" fill-opacity="0.04"/>
<polygon points="416.7,268.5 424.9,297.1 407.6,289.9" fill="#000" fill-opacity="0.04"/>
<polygon points="416.7,268.5 437.1,273.1 444.2,297.5" fill="#fff" fill-opacity="0.04"/>
<polygon points="437.1,273.1 464.9,270.1 444.2,297.5" fill="#000" fill-opacity="0.05"/>
<polygon points="464.9,270.1 460.4,291.8 444.2,297.5" fill="#fff" fill-opacity="0.05"/>
<polygon points="464.9,270.1 484.0,271.2 475.7,292.2" fill="#fff" fill-opacity="0.06"/>
<polygon points="464.9,270.1 475.7,292.2 460.4,291.8" fill="#fff" fill-opacity="0.06"/>
<polygon points="484.0,271.2 495.1,279.2 500.7,288.5" fill="#000" fill-opacity="0.06"/>
<polygon points="484.0,271.2 500.7,288.5 475.7,292.2" fill="#fff" fill-opacity="0.07"/>
<polygon points="495.1,279.2 520.2,274.1 512.1,297.3" fill="#fff" fill-opacity="0.06"/>
<polygon points="495.1,279.2 512.1,297.3 500.7,288.5" fill="#000" fill-opacity="0.03"/>
<polygon points="100.1,74.3 99.1,75.0 98.3,74.3 98.8,73.5" fill="#ffffff" fill-opacity="0.85"/>
<polygon points="127.5,56.5 126.8,57.4 125.7,56.5 126.9,55.7" fill="#ffffff" fill-opacity="0.85"/>
<polygon points="111.6,68.7 109.9,69.5 109.5,68.7 110.7,68.0" fill="#ffffff" fill-opacity="0.85"/>
<polygon points="125.8,59.6 124.2,60.5 123.7,59.6 124.3,58.8" fill="#ffffff" fill-opacity="0.85"/>
<polygon points="100.2,40.7 98.6,41.4 97.7,40.8 99.1,40.1" fill="#ffffff" fill-opacity="0.85"/>
<polygon points="101.4,36.8 100.0,37.7 98.9,36.9 99.7,35.9" fill="#ffffff" fill-opacity="0.85"/>
<polygon points="155.7,69.0 155.3,69.5 154.6,69.0 155.1,68.5" fill="#ffffff" fill-opacity="0.85"/>
<polygon points="94.9,54.7 94.3,55.2 92.9,54.7 94.1,54.1" fill="#ffffff" fill-opacity="0.85"/>
<polygon points="147.1,43.6 145.1,44.6 143.6,43.6 145.5,42.5" fill="#ffffff" fill-opacity="0.85"/>
<polygon points="129.0,54.2 126.9,55.3 125.3,54.2 126.9,53.1" fill="#ffffff" fill-opacity="0.85"/>
<polygon points="121.6,81.1 119.9,82.2 118.5,81.2 119.3,80.1" fill="#ffffff" fill-opacity="0.85"/>
<polygon points="127.9,80.1 126.3,81.2 124.9,80.1 126.3,78.9" fill="#ffffff" fill-opacity="0.85"/>
<polygon points="128.7,39.2 127.1,40.0 126.1,39.2 127.9,38.4" fill="#ffffff" fill-opacity="0.85"/>
<polygon points="149.3,79.1 147.9,80.0 146.7,79.1 147.3,78.2" fill="#ffffff" fill-opacity="0.85"/>
<polygon points="137.8,48.2 136.6,49.2 135.6,48.3 136.7,47.3" fill="#ffffff" fill-opacity="0.85"/>
<polygon points="106.0,59.9 104.3,60.7 103.3,60.0 104.7,59.1" fill="#ffffff" fill-opacity="0.85"/>
<polygon points="95.5,63.3 93.6,64.5 92.2,63.4 93.9,62.2" fill="#ffffff" fill-opacity="0.85"/>
<polygon points="96.8,41.7 96.1,42.3 95.2,41.7 96.0,41.1" fill="#ffffff" fill-opacity="0.85"/>
<polygon points="92.8,61.1 91.2,62.2 89.8,61.2 90.9,60.1" fill="#ffffff" fill-opacity="0.85"/>
<polygon points="143.6,57.2 142.2,58.1 140.9,57.2 142.0,56.3" fill="#ffffff" fill-opacity="0.85"/>
<polygon points="103.3,59.6 101.7,60.3 101.0,59.6 102.4,58.8" fill="#ffffff" fill-opacity="0.85"/>
<polygon points="104.6,61.6 103.9,62.4 102.2,61.6 103.8,60.8" fill="#ffffff" fill-opacity="0.85"/>
<polygon points="98.5,39.1 96.6,40.2 95.3,39.1 96.9,38.0" fill="#ffffff" fill-opacity="0.85"/>
<polygon points="145.6,41.0 144.5,41.7 143.1,41.1 144.2,40.4" fill="#ffffff" fill-opacity="0.85"/>
<polygon points="114.5,67.1 113.1,68.0 111.6,67.1 113.1,66.1" fill="#ffffff" fill-opacity="0.85"/>
<polygon points="146.4,70.9 145.1,71.8 144.1,71.0 144.6,70.1" fill="#ffffff" fill-opacity="0.85"/>
<polygon points="156.9,36.2 155.4,37.2 154.3,36.2 155.4,35.2" fill="#ffffff" fill-opacity="0.85"/>
<polygon points="119.9,72.0 118.1,73.2 116.7,72.1 118.2,70.9" fill="#ffffff" fill-opacity="0.85"/>
<polygon points="144.4,49.5 143.2,50.2 142.1,49.5 143.5,48.7" fill="#ffffff" fill-opacity="0.85"/>
<polygon points="154.6,59.0 153.5,59.8 152.2,59.0 153.7,58.2" fill="#ffffff" fill-opacity="0.85"/>
<polygon points="133.2,40.0 131.9,41.2 130.3,40.1 132.0,38.9" fill="#ffffff" fill-opacity="0.85"/>
<polygon points="102.0,55.6 100.3,56.7 99.2,55.7 100.7,54.5" fill="#ffffff" fill-opacity="0.85"/>
<polygon points="161.1,71.6 159.4,72.4 158.2,71.6 159.6,70.7" fill="#ffffff" fill-opacity="0.85"/>
<polygon points="117.1,52.5 116.3,53.4 114.8,52.5 115.9,51.5" fill="#ffffff" fill-opacity="0.85"/>
<polygon points="93.3,53.2 92.1,54.0 91.3,53.3 92.5,52.5" fill="#ffffff" fill-opacity="0.85"/>
<polygon points="125.6,56.2 123.7,57.2 122.6,56.3 124.1,55.3" fill="#ffffff" fill-opacity="0.85"/>
<polygon points="99.9,50.6 98.0,51.8 96.0,50.7 98.3,49.5" fill="#ffffff" fill-opacity="0.85"/>
<polygon points="142.6,73.7 140.5,74.9 138.6,73.8 140.4,72.6" fill="#ffffff" fill-opacity="0.85"/>
<polygon points="126.6,59.2 126.0,59.8 125.1,59.3 125.8,58.6" fill="#ffffff" fill-opacity="0.85"/>
<polygon points="166.2,65.3 165.7,65.8 164.6,65.3 165.6,64.8" fill="#ffffff" fill-opacity="0.85"/>
<polygon points="85.9,50.0 84.4,51.1 82.5,50.0 84.3,48.9" fill="#ffffff" fill-opacity="0.85"/>
<polygon points="130.7,48.2 129.7,49.2 128.1,48.3 129.3,47.3" fill="#ffffff" fill-opacity="0.85"/>
<polygon points="95.1,43.2 93.6,44.2 92.2,43.3 94.0,42.2" fill="#ffffff" fill-opacity="0.85"/>
<polygon points="152.7,64.2 151.1,65.3 150.2,64.2 151.3,63.1" fill="#ffffff" fill-opacity="0.85"/>
<polygon points="143.4,52.3 142.3,52.9 142.1,52.3 142.7,51.7" fill="#ffffff" fill-opacity="0.85"/>
<polygon points="113.3,56.7 112.9,57.5 111.6,56.7 113.0,55.9" fill="#ffffff" fill-opacity="0.85"/>
<polygon points="97.9,44.9 95.8,46.0 94.7,44.9 96.2,43.7" fill="#ffffff" fill-opacity="0.85"/>
<polygon points="131.5,53.9 129.9,55.1 128.6,54.0 129.8,52.8" fill="#ffffff" fill-opacity="0.85"/>
<polygon points="107.9,59.9 107.1,60.5 106.1,59.9 107.6,59.2" fill="#ffffff" fill-opacity="0.85"/>
<polygon points="90.5,54.7 89.1,55.4 88.1,54.7 89.8,53.9" fill="#ffffff" fill-opacity="0.85"/>
<polygon points="93.7,49.7 93.3,50.3 92.1,49.7 92.9,49.0" fill="#ffffff" fill-opacity="0.85"/>
<polygon points="97.7,60.7 97.2,61.3 96.4,60.7 96.7,60.1" fill="#ffffff" fill-opacity="0.85"/>
<polygon points="103.4,63.2 102.1,63.8 101.0,63.2 102.0,62.5" fill="#ffffff" fill-opacity="0.85"/>
<polygon points="97.7,62.0 96.3,62.9 95.3,62.0 96.3,61.1" fill="#ffffff" fill-opacity="0.85"/>
<polygon points="109.8,54.9 108.5,55.5 107.8,54.9 108.7,54.2" fill="#ffffff" fill-opacity="0.85"/>
<polygon points="89.5,47.5 88.2,48.6 86.3,47.6 88.2,46.5" fill="#ffffff" fill-opacity="0.85"/>
<polygon points="99.0,45.3 97.9,46.0 97.4,45.3 98.1,44.6" fill="#ffffff" fill-opacity="0.85"/>
<polygon points="122.5,61.7 121.0,62.7 119.3,61.7 121.3,60.6" fill="#ffffff" fill-opacity="0.85"/>
<polygon points="105.0,57.2 104.0,58.2 102.3,57.2 103.9,56.2" fill="#ffffff" fill-opacity="0.85"/>
<polygon points="128.9,58.7 127.4,59.7 126.1,58.7 127.5,57.7" fill="#ffffff" fill-opacity="0.85"/>
<polygon points="87.0,50.2 86.1,51.2 84.6,50.3 86.0,49.3" fill="#ffffff" fill-opacity="0.85"/>
<polygon points="117.8,51.0 117.0,51.5 116.0,51.0 116.5,50.5" fill="#ffffff" fill-opacity="0.85"/>
<polygon points="87.3,48.9 86.0,49.5 85.8,48.9 86.5,48.3" fill="#ffffff" fill-opacity="0.85"/>
<polygon points="104.2,59.0 102.5,60.0 101.7,59.0 102.8,57.9" fill="#ffffff" fill-opacity="0.85"/>
<polygon points="120.7,60.6 119.1,61.5 118.3,60.6 119.4,59.7" fill="#ffffff" fill-opacity="0.85"/>
<polygon points="91.0,59.2 90.3,59.8 89.2,59.3 90.2,58.7" fill="#ffffff" fill-opacity="0.85"/>
<polygon points="110.8,49.0 110.0,49.5 109.1,49.0 109.9,48.5" fill="#ffffff" fill-opacity="0.85"/>
<polygon points="117.1,48.8 116.1,49.4 115.6,48.8 116.0,48.1" fill="#ffffff" fill-opacity="0.85"/>
<polygon points="92.1,55.3 90.8,56.0 90.0,55.3 90.5,54.5" fill="#ffffff" fill-opacity="0.85"/>
<polygon points="107.4,59.3 105.9,60.4 104.5,59.4 105.9,58.3" fill="#ffffff" fill-opacity="0.85"/>
<polygon points="94.3,58.0 93.3,58.8 92.3,58.1 93.3,57.2" fill="#ffffff" fill-opacity="0.85"/>
<polygon points="85.6,63.8 84.7,64.9 83.5,63.9 84.6,62.8" fill="#ffffff" fill-opacity="0.85"/>
<polygon points="105.7,47.8 105.1,48.7 103.7,47.8 104.9,46.9" fill="#ffffff" fill-opacity="0.85"/>
<polygon points="96.5,48.9 96.3,49.5 95.5,48.9 95.9,48.3" fill="#ffffff" fill-opacity="0.85"/>
<polygon points="125.7,62.5 124.8,63.1 123.9,62.6 124.4,61.9" fill="#ffffff" fill-opacity="0.85"/>
<polygon points="100.5,51.4 99.6,52.2 97.9,51.4 99.0,50.5" fill="#ffffff" fill-opacity="0.85"/>
<polygon points="125.3,58.1 123.3,59.2 121.7,58.2 123.1,57.0" fill="#ffffff" fill-opacity="0.85"/>
<polygon points="88.7,57.8 88.2,58.4 86.7,57.8 87.5,57.2" fill="#ffffff" fill-opacity="0.85"/>
<polygon points="120.5,44.1 118.9,45.1 117.1,44.1 118.5,43.0" fill="#ffffff" fill-opacity="0.85"/>
<polygon points="105.5,50.8 104.4,51.6 103.4,50.8 103.9,50.0" fill="#ffffff" fill-opacity="0.85"/>
<polygon points="111.6,51.0 110.9,51.6 110.1,51.0 111.4,50.3" fill="#ffffff" fill-opacity="0.85"/>
<polygon points="132.3,63.2 130.4,64.2 129.6,63.3 130.8,62.3" fill="#ffffff" fill-opacity="0.85"/>
<polygon points="130.9,53.6 129.6,54.6 128.7,53.7 129.3,52.7" fill="#ffffff" fill-opacity="0.85"/>
<polygon points="106.7,45.7 105.5,46.7 104.0,45.7 105.5,44.8" fill="#ffffff" fill-opacity="0.85"/>
<polygon points="91.1,47.6 89.1,48.7 88.2,47.7 89.3,46.5" fill="#ffffff" fill-opacity="0.85"/>
<polygon points="97.1,53.8 96.1,54.7 94.5,53.8 96.1,52.9" fill="#ffffff" fill-opacity="0.85"/>
<polygon points="105.0,45.5 103.6,46.3 102.6,45.5 103.8,44.7" fill="#ffffff" fill-opacity="0.85"/>
<polygon points="120.1,46.0 118.3,47.1 117.5,46.1 118.7,45.0" fill="#ffffff" fill-opacity="0.85"/>
<polygon points="122.1,45.2 120.8,45.8 120.4,45.2 121.0,44.5" fill="#ffffff" fill-opacity="0.85"/>
<polygon points="106.1,61.8 104.5,62.7 103.5,61.8 104.7,60.8" fill="#ffffff" fill-opacity="0.85"/></g>
</g>
<g id="pins">
<path d="M102.2,111.9 C97.2,100.9 84.80000000000001,92.19999999999999 84.80000000000001,82.19999999999999 A17.4,17.4 0 1 1 119.6,82.19999999999999 C119.6,92.19999999999999 107.2,100.9 102.2,111.9 Z" fill="#c7c9c8" stroke="#e4e4e4" stroke-width="1.6" stroke-opacity="0.85"/><path d="M102.2,111.9 C97.2,100.9 84.80000000000001,92.19999999999999 84.80000000000001,82.19999999999999 A17.4,17.4 0 0 1 102.2,64.8 Z" fill="#a7aaa9"/><path d="M102.2,111.9 L97.7,91.19999999999999 L106.7,91.19999999999999 Z" fill="#a7aaa9" opacity="0.55"/><circle cx="102.2" cy="79.99999999999999" r="8" fill="#ffffff"/>
<path d="M268.5,101.8 C263.5,90.8 251.1,81.4 251.1,71.4 A17.4,17.4 0 1 1 285.9,71.4 C285.9,81.4 273.5,90.8 268.5,101.8 Z" fill="#c7c9c8" stroke="#e4e4e4" stroke-width="1.6" stroke-opacity="0.85"/><path d="M268.5,101.8 C263.5,90.8 251.1,81.4 251.1,71.4 A17.4,17.4 0 0 1 268.5,54 Z" fill="#a7aaa9"/><path d="M268.5,101.8 L264.0,80.4 L273.0,80.4 Z" fill="#a7aaa9" opacity="0.55"/><circle cx="268.5" cy="69.2" r="8" fill="#ffffff"/>
<path d="M380.2,128 C375.2,117 362.8,107.4 362.8,97.4 A17.4,17.4 0 1 1 397.59999999999997,97.4 C397.59999999999997,107.4 385.2,117 380.2,128 Z" fill="#b4bcc8" stroke="#e8d8b0" stroke-width="1.6" stroke-opacity="0.85"/><path d="M380.2,128 C375.2,117 362.8,107.4 362.8,97.4 A17.4,17.4 0 0 1 380.2,80 Z" fill="#a4acb8"/><path d="M380.2,128 L375.7,106.4 L384.7,106.4 Z" fill="#a4acb8" opacity="0.55"/><circle cx="380.2" cy="95.2" r="8" fill="#ffffff"/>
<path d="M268,182.5 C263,171.5 250.6,161.1 250.6,151.1 A17.4,17.4 0 1 1 285.4,151.1 C285.4,161.1 273,171.5 268,182.5 Z" fill="#c7c9c8" stroke="#e4e4e4" stroke-width="1.6" stroke-opacity="0.85"/><path d="M268,182.5 C263,171.5 250.6,161.1 250.6,151.1 A17.4,17.4 0 0 1 268,133.7 Z" fill="#a7aaa9"/><path d="M268,182.5 L263.5,160.1 L272.5,160.1 Z" fill="#a7aaa9" opacity="0.55"/><circle cx="268" cy="148.9" r="8" fill="#ffffff"/>
<path d="M160.2,214 C155.2,203 142.79999999999998,194.1 142.79999999999998,184.1 A17.4,17.4 0 1 1 177.6,184.1 C177.6,194.1 165.2,203 160.2,214 Z" fill="#c7c9c8" stroke="#e4e4e4" stroke-width="1.6" stroke-opacity="0.85"/><path d="M160.2,214 C155.2,203 142.79999999999998,194.1 142.79999999999998,184.1 A17.4,17.4 0 0 1 160.2,166.7 Z" fill="#a7aaa9"/><path d="M160.2,214 L155.7,193.1 L164.7,193.1 Z" fill="#a7aaa9" opacity="0.55"/><circle cx="160.2" cy="181.9" r="8" fill="#ffffff"/>
</g>
<g id="labels">
<rect x="119.7" y="113.7" width="55.7" height="6" fill="url(#shG)"/><rect x="118.3" y="94.2" width="71.4" height="20.0" fill="#1b75bc"/><text x="123.0" y="107.9" font-size="8" font-weight="bold" fill="#a6ecff" textLength="61" lengthAdjust="spacingAndGlyphs">NORTH AMERICA</text>
<rect x="120.3" y="120" width="71.4" height="21.3" fill="#ffffff" fill-opacity="0.72" stroke="#e2e2e2" stroke-width="1"/><text x="130.0" y="133.8" font-size="9" font-weight="bold" fill="#2e2e2e" textLength="49" lengthAdjust="spacingAndGlyphs">XX% US$ Mn</text>
<rect x="283.8" y="103.7" width="72.4" height="6" fill="url(#shG)"/><rect x="283.8" y="83.7" width="72.4" height="20.5" fill="#f7941d"/><text x="302.5" y="96.8" font-size="8" font-weight="bold" fill="#fdea6e" textLength="30" lengthAdjust="spacingAndGlyphs">EUROPE</text>
<rect x="283.8" y="109.7" width="72.4" height="21.1" fill="#ffffff" fill-opacity="0.72" stroke="#e2e2e2" stroke-width="1"/><text x="294.5" y="123.5" font-size="9" font-weight="bold" fill="#2e2e2e" textLength="49" lengthAdjust="spacingAndGlyphs">XX% US$ Mn</text>
<rect x="393.9" y="129.2" width="45.0" height="6" fill="url(#shG)"/><rect x="392.5" y="110" width="71.5" height="19.7" fill="#f7e118"/><text x="404.5" y="122.6" font-size="8" font-weight="bold" fill="#55560e" textLength="47" lengthAdjust="spacingAndGlyphs">ASIA PACIFIC</text>
<rect x="393.3" y="135.8" width="71.4" height="20.9" fill="#ffffff" fill-opacity="0.72" stroke="#e2e2e2" stroke-width="1"/><text x="404.0" y="149.4" font-size="9" font-weight="bold" fill="#2e2e2e" textLength="49" lengthAdjust="spacingAndGlyphs">XX% US$ Mn</text>
<rect x="279.7" y="189.5" width="69.5" height="6" fill="url(#shG)"/><rect x="278.3" y="169.7" width="70.9" height="20.3" fill="#92278f"/><text x="290.0" y="178" font-size="8" font-weight="bold" fill="#f2b4ea" textLength="50" lengthAdjust="spacingAndGlyphs">MIDDLE EAST</text><text x="293.2" y="187.3" font-size="8" font-weight="bold" fill="#f2b4ea" textLength="43.5" lengthAdjust="spacingAndGlyphs">AND AFRICA</text>
<rect x="280" y="196.3" width="71.7" height="22.0" fill="#ffffff" fill-opacity="0.72" stroke="#e2e2e2" stroke-width="1"/><text x="291.5" y="210.5" font-size="9" font-weight="bold" fill="#2e2e2e" textLength="49" lengthAdjust="spacingAndGlyphs">XX% US$ Mn</text>
<rect x="177.9" y="215.0" width="69.1" height="6" fill="url(#shG)"/><rect x="175.8" y="196.2" width="71.2" height="19.3" fill="#d7141a"/><text x="181.8" y="208.6" font-size="8" font-weight="bold" fill="#ffc4c4" textLength="57.5" lengthAdjust="spacingAndGlyphs">LATIN AMERICA</text>
<rect x="176.7" y="221.7" width="71.6" height="20.8" fill="#ffffff" fill-opacity="0.72" stroke="#e2e2e2" stroke-width="1"/><text x="186.5" y="235.3" font-size="9" font-weight="bold" fill="#2e2e2e" textLength="49" lengthAdjust="spacingAndGlyphs">XX% US$ Mn</text>
</g>
</g>

  <g id="barchart">
    <!-- axes -->
    <rect x="572.4" y="32" width="1.6" height="216.5" fill="#a9b6c6"/>
    <rect x="569" y="247.6" width="341" height="1.4" fill="#c9d0d8"/>
    <g fill="#a9b6c6">
      <rect x="569.5" y="56.5" width="6" height="1.2"/>
      <rect x="569.5" y="104.2" width="6" height="1.2"/>
      <rect x="569.5" y="151.8" width="6" height="1.2"/>
      <rect x="569.5" y="199.4" width="6" height="1.2"/>
    </g>
    <g class="ax" text-anchor="middle">
      <text x="551" y="60.5">XX</text>
      <text x="551" y="108.2">XX</text>
      <text x="551" y="155.8">XX</text>
      <text x="551" y="203.4">XX</text>
      <text x="551" y="251">XX</text>
    </g>
    <!-- bars -->
    <rect x="585.5" y="196" width="36.5" height="52" fill="#5b69ad"/>
    <rect x="626.2" y="184" width="36.5" height="64" fill="#40c09a"/>
    <rect x="666.9" y="184" width="36.5" height="64" fill="#db5f60"/>
    <rect x="707.6" y="158" width="36.5" height="90" fill="#36878e"/>
    <rect x="748.3" y="148" width="36.5" height="100" fill="#ae6c98"/>
    <rect x="789" y="135.5" width="36.5" height="112.5" fill="#c4ce4e"/>
    <rect x="829.7" y="74" width="36.5" height="174" fill="#4085a6"/>
    <rect x="870.4" y="50" width="36.5" height="198" fill="#e5834a"/>
    <!-- value labels -->
    <g class="pv" text-anchor="middle">
      <text x="599" y="189">XX%</text>
      <text x="642" y="174">XX%</text>
      <text x="683" y="174">XX%</text>
      <text x="725" y="150">XX%</text>
      <text x="765" y="140">XX%</text>
      <text x="806" y="128">XX%</text>
      <text x="848" y="66.5">XX%</text>
      <text x="886.5" y="43">XX%</text>
    </g>
    <!-- year labels -->
    <g class="ax" text-anchor="middle">
      <text x="606" y="268">2019</text>
      <text x="644.5" y="268">2020</text>
      <text x="684.5" y="268">2021</text>
      <text x="725" y="268">2022</text>
      <text x="766" y="268">2023</text>
      <text x="807" y="268">2024</text>
      <text x="848" y="268">2025</text>
      <text x="889" y="268">2026</text>
    </g>
</g>


  <g id="donut">
<path d="M1071.00,50.20 A88.5,88.5 0 1 1 1026.22,215.03 L1050.25,174.06 A41,41 0 1 0 1071.00,97.70 Z" fill="#2f57a5" stroke="#ffffff" stroke-width="1.6" stroke-linejoin="round"/>
<path d="M1026.22,215.03 A88.5,88.5 0 0 1 988.94,105.55 L1032.99,123.34 A41,41 0 0 0 1050.25,174.06 Z" fill="#3b66b8" stroke="#ffffff" stroke-width="1.6" stroke-linejoin="round"/>
<path d="M988.94,105.55 A88.5,88.5 0 0 1 1025.42,62.84 L1049.88,103.56 A41,41 0 0 0 1032.99,123.34 Z" fill="#7288cd" stroke="#ffffff" stroke-width="1.6" stroke-linejoin="round"/>
<path d="M1025.42,62.84 A88.5,88.5 0 0 1 1071.00,50.20 L1071.00,97.70 A41,41 0 0 0 1049.88,103.56 Z" fill="#a8b5db" stroke="#ffffff" stroke-width="1.6" stroke-linejoin="round"/>
<g class="pw" text-anchor="middle"><text x="1125" y="164">XX%</text><text x="1009" y="163">XX%</text><text x="1021" y="99.5" fill="#e8ecf8">XX%</text></g>
<text class="pv" text-anchor="middle" x="1053.5" y="79">XX%</text>
<rect x="973" y="258" width="4" height="4" fill="#2f57a5"/><text class="lg" x="983" y="264">Type 1</text>
<rect x="1024" y="258" width="4" height="4" fill="#3b66b8"/><text class="lg" x="1034" y="264">Type 2</text>
<rect x="1076" y="258" width="4" height="4" fill="#7288cd"/><text class="lg" x="1086" y="264">Type 3</text>
<rect x="1127" y="258" width="4" height="4" fill="#a8b5db"/><text class="lg" x="1137" y="264">Type 4</text>
</g>

  <g id="pies">
<text class="t" x="115" y="344" textLength="196" lengthAdjust="spacingAndGlyphs">COMPETITIVE LANDSCAPE</text>
<path d="M167.5,400 L286,389.5 M167.5,476.3 L292,489" stroke="#c9c9d1" stroke-width="1.7" fill="none"/>
<path d="M112.5,438.2 L166.59,476.36 A66.2,66.2 0 1 1 84.94,378.01 Z" fill="#c89a02" stroke="#fff3a0" stroke-width="1.2" stroke-linejoin="round"/>
<path d="M112.5,438.2 L84.94,378.01 A66.2,66.2 0 0 1 167.19,400.89 Z" fill="#eab102" stroke="#fff3a0" stroke-width="1.2" stroke-linejoin="round"/>
<path d="M112.5,438.2 L167.19,400.89 A66.2,66.2 0 0 1 166.59,476.36 Z" fill="#fbede0" stroke="#fdf3e8" stroke-width="0.8" stroke-linejoin="round"/>
<path d="M299.7,439.3 L341.05,466.15 A49.3,49.3 0 1 1 266.08,403.24 Z" fill="#fcc45e" stroke="#fde9b8" stroke-width="1.2" stroke-linejoin="round"/>
<path d="M299.7,439.3 L266.08,403.24 A49.3,49.3 0 0 1 341.05,466.15 Z" fill="#fbdcab" stroke="#fde9b8" stroke-width="1.2" stroke-linejoin="round"/>
<path d="M112.5,438.2 L84.9,378.0" stroke="#fbe45c" stroke-width="1.8" fill="none"/>
<g class="pv" text-anchor="middle"><text x="156" y="441.5">XX%</text><text x="319" y="430" fill="#5a4020">XX%</text><text x="279" y="462" fill="#5a4020">XX%</text></g>
<g class="pw" text-anchor="middle"><text x="121" y="404" fill="#fff6d0">XX%</text><text x="91" y="471.5" fill="#fff0c0">XX%</text></g>
<rect x="96" y="549" width="4" height="4" fill="#c89a02"/><text class="lg" x="105" y="555">Type 1</text>
<rect x="151.7" y="549" width="4" height="4" fill="#eab102"/><text class="lg" x="160.7" y="555">Type 2</text>
<rect x="207.3" y="549" width="4" height="4" fill="#f3d89a"/><text class="lg" x="216.3" y="555">Type 3</text>
<rect x="263" y="549" width="4" height="4" fill="#fbe9d8"/><text class="lg" x="272" y="555">Type 4</text>
</g>

  <g id="company">
<text class="t" x="490.5" y="344" textLength="151.5" lengthAdjust="spacingAndGlyphs">COMPANY REVENUE</text>
<rect x="409" y="533.6" width="320" height="1.2" fill="#d4d4d4"/>
<rect x="430.5" y="394.5" width="39" height="139.5" fill="#3f506d"/>
<rect x="510.3" y="452.4" width="39" height="81.60000000000002" fill="#3f506d"/>
<rect x="590" y="420.6" width="39" height="113.39999999999998" fill="#3f506d"/>
<rect x="670.5" y="388" width="39" height="146" fill="#3f506d"/>
<path d="M450,469 L530,469 C560,455 590,447 612,436.5 C640,420 665,395 689,371" stroke="#fff3a8" stroke-opacity="0.55" stroke-width="4.2" fill="none" stroke-linecap="round" stroke-linejoin="round"/><path d="M450,469 L530,469 C560,455 590,447 612,436.5 C640,420 665,395 689,371" stroke="#efca36" stroke-width="2" fill="none" stroke-linecap="round" stroke-linejoin="round"/>
<g class="pw" text-anchor="middle"><text x="450" y="515">XX%</text><text x="530" y="515">XX%</text><text x="609.5" y="515">XX%</text><text x="690" y="515">XX%</text><text x="456.5" y="464">XX%</text></g>
<g class="pv" text-anchor="middle"><text x="530" y="449.5">XX%</text><text x="609" y="416">XX%</text><text x="696.5" y="364.5">XX%</text></g>
<text class="cat" text-anchor="middle" x="450" y="553.5">Category 1</text>
<text class="cat" text-anchor="middle" x="530" y="553.5">Category 2</text>
<text class="cat" text-anchor="middle" x="610" y="553.5">Category 3</text>
<text class="cat" text-anchor="middle" x="690" y="553.5">Category 4</text>
</g>

  <g id="business">
<text class="t" x="915" y="344" textLength="149.6" lengthAdjust="spacingAndGlyphs">BUSINESS REVENUE</text>
<rect x="835.3" y="366" width="1" height="160" fill="#e0e4ea"/>
<rect x="836" y="372" width="119.8" height="26" fill="#3e76b2"/>
<rect x="955.8" y="372" width="74.2" height="26" fill="#4f8dd1"/>
<rect x="1030" y="372" width="134.0" height="26" fill="#a4bce3"/>
<text class="cat" x="768" y="389">Category 4</text>
<text class="pw" text-anchor="middle" x="886" y="388.7">XX%</text><text class="pw" text-anchor="middle" x="992" y="388.7">XX%</text><text class="pv" text-anchor="middle" x="1098" y="388.7" fill="#3c4a60">XX%</text>
<rect x="836" y="412.4" width="137.8" height="26" fill="#3e76b2"/>
<rect x="973.8" y="412.4" width="72.0" height="26" fill="#4f8dd1"/>
<rect x="1045.8" y="412.4" width="118.2" height="26" fill="#a4bce3"/>
<text class="cat" x="768" y="429.4">Category 3</text>
<text class="pw" text-anchor="middle" x="886" y="429.09999999999997">XX%</text><text class="pw" text-anchor="middle" x="1009" y="429.09999999999997">XX%</text><text class="pv" text-anchor="middle" x="1098" y="429.09999999999997" fill="#3c4a60">XX%</text>
<rect x="836" y="452.8" width="91.5" height="26" fill="#3e76b2"/>
<rect x="927.5" y="452.8" width="162.0" height="26" fill="#4f8dd1"/>
<rect x="1089.5" y="452.8" width="74.5" height="26" fill="#a4bce3"/>
<text class="cat" x="768" y="469.8">Category 2</text>
<text class="pw" text-anchor="middle" x="886" y="469.5">XX%</text><text class="pw" text-anchor="middle" x="1003.5" y="469.5">XX%</text><text class="pv" text-anchor="middle" x="1117" y="469.5" fill="#3c4a60">XX%</text>
<rect x="836" y="493.3" width="162.0" height="26" fill="#3e76b2"/>
<rect x="998" y="493.3" width="90.0" height="26" fill="#4f8dd1"/>
<rect x="1088" y="493.3" width="76.0" height="26" fill="#a4bce3"/>
<text class="cat" x="768" y="510.3">Category 1</text>
<text class="pw" text-anchor="middle" x="886" y="510.0">XX%</text><text class="pw" text-anchor="middle" x="1035" y="510.0">XX%</text><text class="pv" text-anchor="middle" x="1121" y="510.0" fill="#3c4a60">XX%</text>
<rect x="897.0" y="548.5" width="5" height="5" fill="#3e76b2"/><text class="lg" x="904.5" y="555">Type 1</text>
<rect x="949.2" y="548.5" width="5" height="5" fill="#4f8dd1"/><text class="lg" x="956.7" y="555">Type 2</text>
<rect x="1004.5" y="548.5" width="5" height="5" fill="#a4bce3"/><text class="lg" x="1012" y="555">Type 3</text>
</g>

  <g id="globe">
  <circle cx="1094" cy="611" r="23" fill="url(#globeG)"/>
  <circle cx="1094" cy="611" r="23" fill="none" stroke="#2a6fa8" stroke-width="1.2" opacity="0.7"/>
</g>

  <!-- panel divider lines -->
  <g id="dividers">
    <rect x="0" y="308" width="1200" height="3.2" fill="#d2d2d2"/>
    <rect x="0" y="308" width="1200" height="1.2" fill="#bdbdbd"/>
    <rect x="524.2" y="0" width="2" height="309" fill="#8e8e8e"/>
    <rect x="940" y="0" width="2" height="309" fill="#a2a2a2"/>
    <rect x="386" y="310" width="2" height="267" fill="#a0a0a0"/>
    <rect x="750" y="310" width="2" height="267" fill="#a0a0a0"/>
    <rect x="0" y="576" width="1200" height="2" fill="#a6a6a6"/>
  </g>
</svg>
</body>
</html>
